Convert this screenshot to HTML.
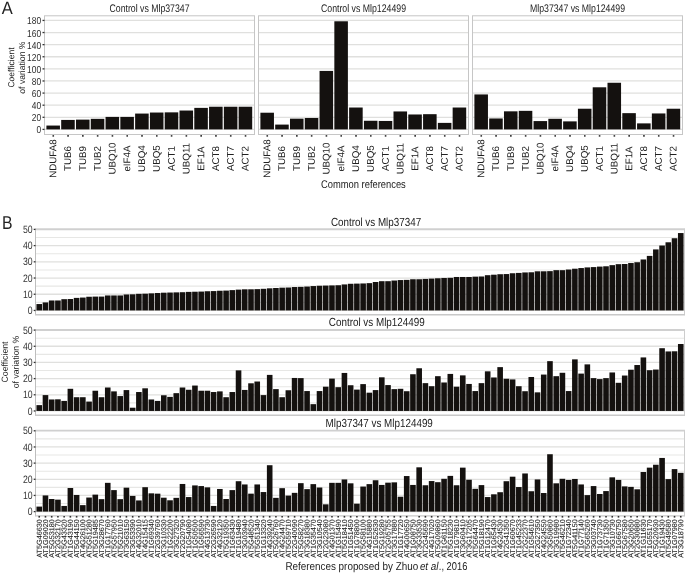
<!DOCTYPE html>
<html><head><meta charset="utf-8"><title>Figure</title>
<style>
html,body{margin:0;padding:0;background:#fff;}
svg{display:block;font-family:"Liberation Sans",sans-serif;will-change:transform;transform:translateZ(0);}
</style></head><body>
<svg width="685" height="573" viewBox="0 0 685 573">
<rect width="685" height="573" fill="#fff"/>
<line x1="44.5" x2="254.5" y1="129.4" y2="129.4" stroke="#e0e0de" stroke-width="1.3"/>
<line x1="44.5" x2="254.5" y1="117.29" y2="117.29" stroke="#e0e0de" stroke-width="1.3"/>
<line x1="44.5" x2="254.5" y1="105.19" y2="105.19" stroke="#e0e0de" stroke-width="1.3"/>
<line x1="44.5" x2="254.5" y1="93.08" y2="93.08" stroke="#e0e0de" stroke-width="1.3"/>
<line x1="44.5" x2="254.5" y1="80.97" y2="80.97" stroke="#e0e0de" stroke-width="1.3"/>
<line x1="44.5" x2="254.5" y1="68.87" y2="68.87" stroke="#e0e0de" stroke-width="1.3"/>
<line x1="44.5" x2="254.5" y1="56.76" y2="56.76" stroke="#e0e0de" stroke-width="1.3"/>
<line x1="44.5" x2="254.5" y1="44.65" y2="44.65" stroke="#e0e0de" stroke-width="1.3"/>
<line x1="44.5" x2="254.5" y1="32.54" y2="32.54" stroke="#e0e0de" stroke-width="1.3"/>
<line x1="44.5" x2="254.5" y1="20.44" y2="20.44" stroke="#e0e0de" stroke-width="1.3"/>
<rect x="46.4" y="125.56" width="13.55" height="3.84" fill="#14110f"/>
<line x1="53.27" x2="53.27" y1="135.1" y2="136.7" stroke="#333" stroke-width="1.6"/>
<text transform="translate(56.33,158.6) rotate(-89.96)" font-size="9.75" text-anchor="middle" fill="#202020">NDUFA8</text>
<rect x="61.19" y="119.93" width="13.55" height="9.47" fill="#14110f"/>
<line x1="68.06" x2="68.06" y1="135.1" y2="136.7" stroke="#333" stroke-width="1.6"/>
<text transform="translate(71.12,158.6) rotate(-89.96)" font-size="9.75" text-anchor="middle" fill="#202020">TUB6</text>
<rect x="75.98" y="119.62" width="13.55" height="9.78" fill="#14110f"/>
<line x1="82.85" x2="82.85" y1="135.1" y2="136.7" stroke="#333" stroke-width="1.6"/>
<text transform="translate(85.9,158.6) rotate(-89.96)" font-size="9.75" text-anchor="middle" fill="#202020">TUB9</text>
<rect x="90.76" y="118.84" width="13.55" height="10.56" fill="#14110f"/>
<line x1="97.64" x2="97.64" y1="135.1" y2="136.7" stroke="#333" stroke-width="1.6"/>
<text transform="translate(100.69,158.6) rotate(-89.96)" font-size="9.75" text-anchor="middle" fill="#202020">TUB2</text>
<rect x="105.55" y="116.9" width="13.55" height="12.5" fill="#14110f"/>
<line x1="112.43" x2="112.43" y1="135.1" y2="136.7" stroke="#333" stroke-width="1.6"/>
<text transform="translate(115.48,158.6) rotate(-89.96)" font-size="9.75" text-anchor="middle" fill="#202020">UBQ10</text>
<rect x="120.34" y="116.9" width="13.55" height="12.5" fill="#14110f"/>
<line x1="127.22" x2="127.22" y1="135.1" y2="136.7" stroke="#333" stroke-width="1.6"/>
<text transform="translate(130.27,158.6) rotate(-89.96)" font-size="9.75" text-anchor="middle" fill="#202020">eIF4A</text>
<rect x="135.13" y="113.57" width="13.55" height="15.83" fill="#14110f"/>
<line x1="142.01" x2="142.01" y1="135.1" y2="136.7" stroke="#333" stroke-width="1.6"/>
<text transform="translate(145.06,158.6) rotate(-89.96)" font-size="9.75" text-anchor="middle" fill="#202020">UBQ4</text>
<rect x="149.92" y="112.54" width="13.55" height="16.86" fill="#14110f"/>
<line x1="156.79" x2="156.79" y1="135.1" y2="136.7" stroke="#333" stroke-width="1.6"/>
<text transform="translate(159.85,158.6) rotate(-89.96)" font-size="9.75" text-anchor="middle" fill="#202020">UBQ5</text>
<rect x="164.71" y="112.36" width="13.55" height="17.04" fill="#14110f"/>
<line x1="171.58" x2="171.58" y1="135.1" y2="136.7" stroke="#333" stroke-width="1.6"/>
<text transform="translate(174.64,158.6) rotate(-89.96)" font-size="9.75" text-anchor="middle" fill="#202020">ACT1</text>
<rect x="179.5" y="110.54" width="13.55" height="18.86" fill="#14110f"/>
<line x1="186.37" x2="186.37" y1="135.1" y2="136.7" stroke="#333" stroke-width="1.6"/>
<text transform="translate(189.43,158.6) rotate(-89.96)" font-size="9.75" text-anchor="middle" fill="#202020">UBQ11</text>
<rect x="194.29" y="107.88" width="13.55" height="21.52" fill="#14110f"/>
<line x1="201.16" x2="201.16" y1="135.1" y2="136.7" stroke="#333" stroke-width="1.6"/>
<text transform="translate(204.21,158.6) rotate(-89.96)" font-size="9.75" text-anchor="middle" fill="#202020">EF1A</text>
<rect x="209.07" y="106.73" width="13.55" height="22.67" fill="#14110f"/>
<line x1="215.95" x2="215.95" y1="135.1" y2="136.7" stroke="#333" stroke-width="1.6"/>
<text transform="translate(219,158.6) rotate(-89.96)" font-size="9.75" text-anchor="middle" fill="#202020">ACT8</text>
<rect x="223.86" y="106.73" width="13.55" height="22.67" fill="#14110f"/>
<line x1="230.74" x2="230.74" y1="135.1" y2="136.7" stroke="#333" stroke-width="1.6"/>
<text transform="translate(233.79,158.6) rotate(-89.96)" font-size="9.75" text-anchor="middle" fill="#202020">ACT7</text>
<rect x="238.65" y="106.73" width="13.55" height="22.67" fill="#14110f"/>
<line x1="245.53" x2="245.53" y1="135.1" y2="136.7" stroke="#333" stroke-width="1.6"/>
<text transform="translate(248.58,158.6) rotate(-89.96)" font-size="9.75" text-anchor="middle" fill="#202020">ACT2</text>
<rect x="44.5" y="15.8" width="210" height="118.7" fill="none" stroke="#c6c6c6" stroke-width="1"/>
<text transform="translate(149.5,12.3) rotate(0.03)" font-size="11.0" text-anchor="middle" textLength="80" lengthAdjust="spacingAndGlyphs" fill="#222">Control vs Mlp37347</text>
<line x1="258.5" x2="468.5" y1="129.4" y2="129.4" stroke="#e0e0de" stroke-width="1.3"/>
<line x1="258.5" x2="468.5" y1="117.29" y2="117.29" stroke="#e0e0de" stroke-width="1.3"/>
<line x1="258.5" x2="468.5" y1="105.19" y2="105.19" stroke="#e0e0de" stroke-width="1.3"/>
<line x1="258.5" x2="468.5" y1="93.08" y2="93.08" stroke="#e0e0de" stroke-width="1.3"/>
<line x1="258.5" x2="468.5" y1="80.97" y2="80.97" stroke="#e0e0de" stroke-width="1.3"/>
<line x1="258.5" x2="468.5" y1="68.87" y2="68.87" stroke="#e0e0de" stroke-width="1.3"/>
<line x1="258.5" x2="468.5" y1="56.76" y2="56.76" stroke="#e0e0de" stroke-width="1.3"/>
<line x1="258.5" x2="468.5" y1="44.65" y2="44.65" stroke="#e0e0de" stroke-width="1.3"/>
<line x1="258.5" x2="468.5" y1="32.54" y2="32.54" stroke="#e0e0de" stroke-width="1.3"/>
<line x1="258.5" x2="468.5" y1="20.44" y2="20.44" stroke="#e0e0de" stroke-width="1.3"/>
<rect x="260.4" y="112.72" width="13.55" height="16.68" fill="#14110f"/>
<line x1="267.27" x2="267.27" y1="135.1" y2="136.7" stroke="#333" stroke-width="1.6"/>
<text transform="translate(270.33,158.6) rotate(-89.96)" font-size="9.75" text-anchor="middle" fill="#202020">NDUFA8</text>
<rect x="275.19" y="124.59" width="13.55" height="4.81" fill="#14110f"/>
<line x1="282.06" x2="282.06" y1="135.1" y2="136.7" stroke="#333" stroke-width="1.6"/>
<text transform="translate(285.12,158.6) rotate(-89.96)" font-size="9.75" text-anchor="middle" fill="#202020">TUB6</text>
<rect x="289.98" y="118.66" width="13.55" height="10.74" fill="#14110f"/>
<line x1="296.85" x2="296.85" y1="135.1" y2="136.7" stroke="#333" stroke-width="1.6"/>
<text transform="translate(299.9,158.6) rotate(-89.96)" font-size="9.75" text-anchor="middle" fill="#202020">TUB9</text>
<rect x="304.76" y="117.99" width="13.55" height="11.41" fill="#14110f"/>
<line x1="311.64" x2="311.64" y1="135.1" y2="136.7" stroke="#333" stroke-width="1.6"/>
<text transform="translate(314.69,158.6) rotate(-89.96)" font-size="9.75" text-anchor="middle" fill="#202020">TUB2</text>
<rect x="319.55" y="70.92" width="13.55" height="58.48" fill="#14110f"/>
<line x1="326.43" x2="326.43" y1="135.1" y2="136.7" stroke="#333" stroke-width="1.6"/>
<text transform="translate(329.48,158.6) rotate(-89.96)" font-size="9.75" text-anchor="middle" fill="#202020">UBQ10</text>
<rect x="334.34" y="21.28" width="13.55" height="108.12" fill="#14110f"/>
<line x1="341.22" x2="341.22" y1="135.1" y2="136.7" stroke="#333" stroke-width="1.6"/>
<text transform="translate(344.27,158.6) rotate(-89.96)" font-size="9.75" text-anchor="middle" fill="#202020">eIF4A</text>
<rect x="349.13" y="107.52" width="13.55" height="21.88" fill="#14110f"/>
<line x1="356.01" x2="356.01" y1="135.1" y2="136.7" stroke="#333" stroke-width="1.6"/>
<text transform="translate(359.06,158.6) rotate(-89.96)" font-size="9.75" text-anchor="middle" fill="#202020">UBQ4</text>
<rect x="363.92" y="120.77" width="13.55" height="8.63" fill="#14110f"/>
<line x1="370.79" x2="370.79" y1="135.1" y2="136.7" stroke="#333" stroke-width="1.6"/>
<text transform="translate(373.85,158.6) rotate(-89.96)" font-size="9.75" text-anchor="middle" fill="#202020">UBQ5</text>
<rect x="378.71" y="120.96" width="13.55" height="8.44" fill="#14110f"/>
<line x1="385.58" x2="385.58" y1="135.1" y2="136.7" stroke="#333" stroke-width="1.6"/>
<text transform="translate(388.64,158.6) rotate(-89.96)" font-size="9.75" text-anchor="middle" fill="#202020">ACT1</text>
<rect x="393.5" y="111.45" width="13.55" height="17.95" fill="#14110f"/>
<line x1="400.37" x2="400.37" y1="135.1" y2="136.7" stroke="#333" stroke-width="1.6"/>
<text transform="translate(403.43,158.6) rotate(-89.96)" font-size="9.75" text-anchor="middle" fill="#202020">UBQ11</text>
<rect x="408.29" y="114.48" width="13.55" height="14.92" fill="#14110f"/>
<line x1="415.16" x2="415.16" y1="135.1" y2="136.7" stroke="#333" stroke-width="1.6"/>
<text transform="translate(418.21,158.6) rotate(-89.96)" font-size="9.75" text-anchor="middle" fill="#202020">EF1A</text>
<rect x="423.07" y="114.18" width="13.55" height="15.22" fill="#14110f"/>
<line x1="429.95" x2="429.95" y1="135.1" y2="136.7" stroke="#333" stroke-width="1.6"/>
<text transform="translate(433,158.6) rotate(-89.96)" font-size="9.75" text-anchor="middle" fill="#202020">ACT8</text>
<rect x="437.86" y="122.89" width="13.55" height="6.51" fill="#14110f"/>
<line x1="444.74" x2="444.74" y1="135.1" y2="136.7" stroke="#333" stroke-width="1.6"/>
<text transform="translate(447.79,158.6) rotate(-89.96)" font-size="9.75" text-anchor="middle" fill="#202020">ACT7</text>
<rect x="452.65" y="107.52" width="13.55" height="21.88" fill="#14110f"/>
<line x1="459.53" x2="459.53" y1="135.1" y2="136.7" stroke="#333" stroke-width="1.6"/>
<text transform="translate(462.58,158.6) rotate(-89.96)" font-size="9.75" text-anchor="middle" fill="#202020">ACT2</text>
<rect x="258.5" y="15.8" width="210" height="118.7" fill="none" stroke="#c6c6c6" stroke-width="1"/>
<text transform="translate(363.5,12.3) rotate(0.03)" font-size="11.0" text-anchor="middle" textLength="85" lengthAdjust="spacingAndGlyphs" fill="#222">Control vs Mlp124499</text>
<line x1="472.5" x2="682.5" y1="129.4" y2="129.4" stroke="#e0e0de" stroke-width="1.3"/>
<line x1="472.5" x2="682.5" y1="117.29" y2="117.29" stroke="#e0e0de" stroke-width="1.3"/>
<line x1="472.5" x2="682.5" y1="105.19" y2="105.19" stroke="#e0e0de" stroke-width="1.3"/>
<line x1="472.5" x2="682.5" y1="93.08" y2="93.08" stroke="#e0e0de" stroke-width="1.3"/>
<line x1="472.5" x2="682.5" y1="80.97" y2="80.97" stroke="#e0e0de" stroke-width="1.3"/>
<line x1="472.5" x2="682.5" y1="68.87" y2="68.87" stroke="#e0e0de" stroke-width="1.3"/>
<line x1="472.5" x2="682.5" y1="56.76" y2="56.76" stroke="#e0e0de" stroke-width="1.3"/>
<line x1="472.5" x2="682.5" y1="44.65" y2="44.65" stroke="#e0e0de" stroke-width="1.3"/>
<line x1="472.5" x2="682.5" y1="32.54" y2="32.54" stroke="#e0e0de" stroke-width="1.3"/>
<line x1="472.5" x2="682.5" y1="20.44" y2="20.44" stroke="#e0e0de" stroke-width="1.3"/>
<rect x="474.4" y="94.44" width="13.55" height="34.96" fill="#14110f"/>
<line x1="481.27" x2="481.27" y1="135.1" y2="136.7" stroke="#333" stroke-width="1.6"/>
<text transform="translate(484.33,158.6) rotate(-89.96)" font-size="9.75" text-anchor="middle" fill="#202020">NDUFA8</text>
<rect x="489.19" y="118.47" width="13.55" height="10.93" fill="#14110f"/>
<line x1="496.06" x2="496.06" y1="135.1" y2="136.7" stroke="#333" stroke-width="1.6"/>
<text transform="translate(499.12,158.6) rotate(-89.96)" font-size="9.75" text-anchor="middle" fill="#202020">TUB6</text>
<rect x="503.98" y="111.33" width="13.55" height="18.07" fill="#14110f"/>
<line x1="510.85" x2="510.85" y1="135.1" y2="136.7" stroke="#333" stroke-width="1.6"/>
<text transform="translate(513.9,158.6) rotate(-89.96)" font-size="9.75" text-anchor="middle" fill="#202020">TUB9</text>
<rect x="518.76" y="110.85" width="13.55" height="18.55" fill="#14110f"/>
<line x1="525.64" x2="525.64" y1="135.1" y2="136.7" stroke="#333" stroke-width="1.6"/>
<text transform="translate(528.69,158.6) rotate(-89.96)" font-size="9.75" text-anchor="middle" fill="#202020">TUB2</text>
<rect x="533.55" y="121.08" width="13.55" height="8.32" fill="#14110f"/>
<line x1="540.43" x2="540.43" y1="135.1" y2="136.7" stroke="#333" stroke-width="1.6"/>
<text transform="translate(543.48,158.6) rotate(-89.96)" font-size="9.75" text-anchor="middle" fill="#202020">UBQ10</text>
<rect x="548.34" y="118.78" width="13.55" height="10.62" fill="#14110f"/>
<line x1="555.22" x2="555.22" y1="135.1" y2="136.7" stroke="#333" stroke-width="1.6"/>
<text transform="translate(558.27,158.6) rotate(-89.96)" font-size="9.75" text-anchor="middle" fill="#202020">eIF4A</text>
<rect x="563.13" y="121.38" width="13.55" height="8.02" fill="#14110f"/>
<line x1="570.01" x2="570.01" y1="135.1" y2="136.7" stroke="#333" stroke-width="1.6"/>
<text transform="translate(573.06,158.6) rotate(-89.96)" font-size="9.75" text-anchor="middle" fill="#202020">UBQ4</text>
<rect x="577.92" y="108.73" width="13.55" height="20.67" fill="#14110f"/>
<line x1="584.79" x2="584.79" y1="135.1" y2="136.7" stroke="#333" stroke-width="1.6"/>
<text transform="translate(587.85,158.6) rotate(-89.96)" font-size="9.75" text-anchor="middle" fill="#202020">UBQ5</text>
<rect x="592.71" y="87.3" width="13.55" height="42.1" fill="#14110f"/>
<line x1="599.58" x2="599.58" y1="135.1" y2="136.7" stroke="#333" stroke-width="1.6"/>
<text transform="translate(602.64,158.6) rotate(-89.96)" font-size="9.75" text-anchor="middle" fill="#202020">ACT1</text>
<rect x="607.5" y="82.76" width="13.55" height="46.64" fill="#14110f"/>
<line x1="614.37" x2="614.37" y1="135.1" y2="136.7" stroke="#333" stroke-width="1.6"/>
<text transform="translate(617.43,158.6) rotate(-89.96)" font-size="9.75" text-anchor="middle" fill="#202020">UBQ11</text>
<rect x="622.29" y="113.15" width="13.55" height="16.25" fill="#14110f"/>
<line x1="629.16" x2="629.16" y1="135.1" y2="136.7" stroke="#333" stroke-width="1.6"/>
<text transform="translate(632.21,158.6) rotate(-89.96)" font-size="9.75" text-anchor="middle" fill="#202020">EF1A</text>
<rect x="637.07" y="123.38" width="13.55" height="6.02" fill="#14110f"/>
<line x1="643.95" x2="643.95" y1="135.1" y2="136.7" stroke="#333" stroke-width="1.6"/>
<text transform="translate(647,158.6) rotate(-89.96)" font-size="9.75" text-anchor="middle" fill="#202020">ACT8</text>
<rect x="651.86" y="113.45" width="13.55" height="15.95" fill="#14110f"/>
<line x1="658.74" x2="658.74" y1="135.1" y2="136.7" stroke="#333" stroke-width="1.6"/>
<text transform="translate(661.79,158.6) rotate(-89.96)" font-size="9.75" text-anchor="middle" fill="#202020">ACT7</text>
<rect x="666.65" y="108.73" width="13.55" height="20.67" fill="#14110f"/>
<line x1="673.53" x2="673.53" y1="135.1" y2="136.7" stroke="#333" stroke-width="1.6"/>
<text transform="translate(676.58,158.6) rotate(-89.96)" font-size="9.75" text-anchor="middle" fill="#202020">ACT2</text>
<rect x="472.5" y="15.8" width="210" height="118.7" fill="none" stroke="#c6c6c6" stroke-width="1"/>
<text transform="translate(577.5,12.3) rotate(0.03)" font-size="11.0" text-anchor="middle" textLength="95" lengthAdjust="spacingAndGlyphs" fill="#222">Mlp37347 vs Mlp124499</text>
<line x1="42.5" x2="44.5" y1="129.4" y2="129.4" stroke="#333" stroke-width="1.3"/>
<text transform="translate(41.1,133.45) rotate(0.03)" font-size="10.1" text-anchor="end" textLength="4.67" lengthAdjust="spacingAndGlyphs" fill="#2e2e2e">0</text>
<line x1="42.5" x2="44.5" y1="117.29" y2="117.29" stroke="#333" stroke-width="1.3"/>
<text transform="translate(41.1,121.34) rotate(0.03)" font-size="10.1" text-anchor="end" textLength="9.34" lengthAdjust="spacingAndGlyphs" fill="#2e2e2e">20</text>
<line x1="42.5" x2="44.5" y1="105.19" y2="105.19" stroke="#333" stroke-width="1.3"/>
<text transform="translate(41.1,109.24) rotate(0.03)" font-size="10.1" text-anchor="end" textLength="9.34" lengthAdjust="spacingAndGlyphs" fill="#2e2e2e">40</text>
<line x1="42.5" x2="44.5" y1="93.08" y2="93.08" stroke="#333" stroke-width="1.3"/>
<text transform="translate(41.1,97.13) rotate(0.03)" font-size="10.1" text-anchor="end" textLength="9.34" lengthAdjust="spacingAndGlyphs" fill="#2e2e2e">60</text>
<line x1="42.5" x2="44.5" y1="80.97" y2="80.97" stroke="#333" stroke-width="1.3"/>
<text transform="translate(41.1,85.02) rotate(0.03)" font-size="10.1" text-anchor="end" textLength="9.34" lengthAdjust="spacingAndGlyphs" fill="#2e2e2e">80</text>
<line x1="42.5" x2="44.5" y1="68.87" y2="68.87" stroke="#333" stroke-width="1.3"/>
<text transform="translate(41.1,72.92) rotate(0.03)" font-size="10.1" text-anchor="end" textLength="14.01" lengthAdjust="spacingAndGlyphs" fill="#2e2e2e">100</text>
<line x1="42.5" x2="44.5" y1="56.76" y2="56.76" stroke="#333" stroke-width="1.3"/>
<text transform="translate(41.1,60.81) rotate(0.03)" font-size="10.1" text-anchor="end" textLength="14.01" lengthAdjust="spacingAndGlyphs" fill="#2e2e2e">120</text>
<line x1="42.5" x2="44.5" y1="44.65" y2="44.65" stroke="#333" stroke-width="1.3"/>
<text transform="translate(41.1,48.7) rotate(0.03)" font-size="10.1" text-anchor="end" textLength="14.01" lengthAdjust="spacingAndGlyphs" fill="#2e2e2e">140</text>
<line x1="42.5" x2="44.5" y1="32.54" y2="32.54" stroke="#333" stroke-width="1.3"/>
<text transform="translate(41.1,36.59) rotate(0.03)" font-size="10.1" text-anchor="end" textLength="14.01" lengthAdjust="spacingAndGlyphs" fill="#2e2e2e">160</text>
<line x1="42.5" x2="44.5" y1="20.44" y2="20.44" stroke="#333" stroke-width="1.3"/>
<text transform="translate(41.1,24.49) rotate(0.03)" font-size="10.1" text-anchor="end" textLength="14.01" lengthAdjust="spacingAndGlyphs" fill="#2e2e2e">180</text>
<text transform="translate(363.4,188.2) rotate(0.03)" font-size="11.2" text-anchor="middle" textLength="84.8" lengthAdjust="spacingAndGlyphs" fill="#222">Common references</text>
<text transform="translate(1.7,13.6) rotate(0.03)" font-size="17.8" textLength="11" lengthAdjust="spacingAndGlyphs" fill="#222">A</text>
<text transform="translate(14.2,67.5) rotate(-89.96)" font-size="8.8" text-anchor="middle" textLength="40.1" lengthAdjust="spacingAndGlyphs" fill="#222">Coefficient</text>
<text transform="translate(25,67.6) rotate(-89.96)" font-size="8.8" text-anchor="middle" textLength="52.2" lengthAdjust="spacingAndGlyphs" fill="#222">of variation %</text>
<line x1="35.5" x2="684.5" y1="302.34" y2="302.34" stroke="#e7e7e5" stroke-width="1.1"/>
<line x1="35.5" x2="684.5" y1="286.13" y2="286.13" stroke="#e7e7e5" stroke-width="1.1"/>
<line x1="35.5" x2="684.5" y1="269.93" y2="269.93" stroke="#e7e7e5" stroke-width="1.1"/>
<line x1="35.5" x2="684.5" y1="253.72" y2="253.72" stroke="#e7e7e5" stroke-width="1.1"/>
<line x1="35.5" x2="684.5" y1="237.5" y2="237.5" stroke="#e7e7e5" stroke-width="1.1"/>
<line x1="35.5" x2="684.5" y1="310.45" y2="310.45" stroke="#e0e0de" stroke-width="1.3"/>
<line x1="35.5" x2="684.5" y1="294.24" y2="294.24" stroke="#e0e0de" stroke-width="1.3"/>
<line x1="35.5" x2="684.5" y1="278.03" y2="278.03" stroke="#e0e0de" stroke-width="1.3"/>
<line x1="35.5" x2="684.5" y1="261.82" y2="261.82" stroke="#e0e0de" stroke-width="1.3"/>
<line x1="35.5" x2="684.5" y1="245.61" y2="245.61" stroke="#e0e0de" stroke-width="1.3"/>
<rect x="36.44" y="304.05" width="5.6" height="6.4" fill="#14110f"/>
<rect x="42.67" y="302.43" width="5.6" height="8.02" fill="#14110f"/>
<rect x="48.89" y="300.48" width="5.6" height="9.97" fill="#14110f"/>
<rect x="55.12" y="300.48" width="5.6" height="9.97" fill="#14110f"/>
<rect x="61.35" y="299.18" width="5.6" height="11.27" fill="#14110f"/>
<rect x="67.58" y="299.02" width="5.6" height="11.43" fill="#14110f"/>
<rect x="73.81" y="297.89" width="5.6" height="12.56" fill="#14110f"/>
<rect x="80.04" y="297.56" width="5.6" height="12.89" fill="#14110f"/>
<rect x="86.26" y="296.75" width="5.6" height="13.7" fill="#14110f"/>
<rect x="92.49" y="296.59" width="5.6" height="13.86" fill="#14110f"/>
<rect x="98.72" y="296.59" width="5.6" height="13.86" fill="#14110f"/>
<rect x="104.95" y="295.46" width="5.6" height="14.99" fill="#14110f"/>
<rect x="111.18" y="295.46" width="5.6" height="14.99" fill="#14110f"/>
<rect x="117.41" y="295.46" width="5.6" height="14.99" fill="#14110f"/>
<rect x="123.63" y="294.48" width="5.6" height="15.97" fill="#14110f"/>
<rect x="129.86" y="294.32" width="5.6" height="16.13" fill="#14110f"/>
<rect x="136.09" y="293.83" width="5.6" height="16.62" fill="#14110f"/>
<rect x="142.32" y="293.67" width="5.6" height="16.78" fill="#14110f"/>
<rect x="148.55" y="293.35" width="5.6" height="17.1" fill="#14110f"/>
<rect x="154.78" y="293.02" width="5.6" height="17.43" fill="#14110f"/>
<rect x="161.01" y="292.7" width="5.6" height="17.75" fill="#14110f"/>
<rect x="167.23" y="292.54" width="5.6" height="17.91" fill="#14110f"/>
<rect x="173.46" y="292.38" width="5.6" height="18.07" fill="#14110f"/>
<rect x="179.69" y="292.21" width="5.6" height="18.24" fill="#14110f"/>
<rect x="185.92" y="291.89" width="5.6" height="18.56" fill="#14110f"/>
<rect x="192.15" y="291.73" width="5.6" height="18.72" fill="#14110f"/>
<rect x="198.38" y="291.57" width="5.6" height="18.88" fill="#14110f"/>
<rect x="204.6" y="291.24" width="5.6" height="19.21" fill="#14110f"/>
<rect x="210.83" y="291.08" width="5.6" height="19.37" fill="#14110f"/>
<rect x="217.06" y="290.75" width="5.6" height="19.7" fill="#14110f"/>
<rect x="223.29" y="290.59" width="5.6" height="19.86" fill="#14110f"/>
<rect x="229.52" y="290.11" width="5.6" height="20.34" fill="#14110f"/>
<rect x="235.75" y="289.62" width="5.6" height="20.83" fill="#14110f"/>
<rect x="241.97" y="289.3" width="5.6" height="21.15" fill="#14110f"/>
<rect x="248.2" y="289.3" width="5.6" height="21.15" fill="#14110f"/>
<rect x="254.43" y="289.13" width="5.6" height="21.32" fill="#14110f"/>
<rect x="260.66" y="288.81" width="5.6" height="21.64" fill="#14110f"/>
<rect x="266.89" y="288.32" width="5.6" height="22.13" fill="#14110f"/>
<rect x="273.12" y="288" width="5.6" height="22.45" fill="#14110f"/>
<rect x="279.34" y="287.67" width="5.6" height="22.78" fill="#14110f"/>
<rect x="285.57" y="287.51" width="5.6" height="22.94" fill="#14110f"/>
<rect x="291.8" y="287.03" width="5.6" height="23.42" fill="#14110f"/>
<rect x="298.03" y="286.86" width="5.6" height="23.59" fill="#14110f"/>
<rect x="304.26" y="286.54" width="5.6" height="23.91" fill="#14110f"/>
<rect x="310.49" y="286.05" width="5.6" height="24.4" fill="#14110f"/>
<rect x="316.72" y="285.73" width="5.6" height="24.72" fill="#14110f"/>
<rect x="322.94" y="285.57" width="5.6" height="24.88" fill="#14110f"/>
<rect x="329.17" y="285.41" width="5.6" height="25.04" fill="#14110f"/>
<rect x="335.4" y="285.24" width="5.6" height="25.21" fill="#14110f"/>
<rect x="341.63" y="284.43" width="5.6" height="26.02" fill="#14110f"/>
<rect x="347.86" y="283.78" width="5.6" height="26.67" fill="#14110f"/>
<rect x="354.09" y="283.62" width="5.6" height="26.83" fill="#14110f"/>
<rect x="360.31" y="283.46" width="5.6" height="26.99" fill="#14110f"/>
<rect x="366.54" y="283.14" width="5.6" height="27.31" fill="#14110f"/>
<rect x="372.77" y="282" width="5.6" height="28.45" fill="#14110f"/>
<rect x="379" y="281.19" width="5.6" height="29.26" fill="#14110f"/>
<rect x="385.23" y="281.19" width="5.6" height="29.26" fill="#14110f"/>
<rect x="391.46" y="280.54" width="5.6" height="29.91" fill="#14110f"/>
<rect x="397.68" y="280.06" width="5.6" height="30.39" fill="#14110f"/>
<rect x="403.91" y="279.89" width="5.6" height="30.56" fill="#14110f"/>
<rect x="410.14" y="279.25" width="5.6" height="31.2" fill="#14110f"/>
<rect x="416.37" y="279.25" width="5.6" height="31.2" fill="#14110f"/>
<rect x="422.6" y="278.92" width="5.6" height="31.53" fill="#14110f"/>
<rect x="428.83" y="278.6" width="5.6" height="31.85" fill="#14110f"/>
<rect x="435.06" y="278.27" width="5.6" height="32.18" fill="#14110f"/>
<rect x="441.28" y="277.95" width="5.6" height="32.5" fill="#14110f"/>
<rect x="447.51" y="277.79" width="5.6" height="32.66" fill="#14110f"/>
<rect x="453.74" y="276.98" width="5.6" height="33.47" fill="#14110f"/>
<rect x="459.97" y="276.98" width="5.6" height="33.47" fill="#14110f"/>
<rect x="466.2" y="276.98" width="5.6" height="33.47" fill="#14110f"/>
<rect x="472.43" y="276.65" width="5.6" height="33.8" fill="#14110f"/>
<rect x="478.65" y="276.49" width="5.6" height="33.96" fill="#14110f"/>
<rect x="484.88" y="275.19" width="5.6" height="35.26" fill="#14110f"/>
<rect x="491.11" y="274.71" width="5.6" height="35.74" fill="#14110f"/>
<rect x="497.34" y="274.22" width="5.6" height="36.23" fill="#14110f"/>
<rect x="503.57" y="274.06" width="5.6" height="36.39" fill="#14110f"/>
<rect x="509.8" y="273.25" width="5.6" height="37.2" fill="#14110f"/>
<rect x="516.02" y="272.92" width="5.6" height="37.53" fill="#14110f"/>
<rect x="522.25" y="272.44" width="5.6" height="38.01" fill="#14110f"/>
<rect x="528.48" y="272.28" width="5.6" height="38.17" fill="#14110f"/>
<rect x="534.71" y="271.3" width="5.6" height="39.15" fill="#14110f"/>
<rect x="540.94" y="271.3" width="5.6" height="39.15" fill="#14110f"/>
<rect x="547.17" y="271.14" width="5.6" height="39.31" fill="#14110f"/>
<rect x="553.39" y="270.17" width="5.6" height="40.28" fill="#14110f"/>
<rect x="559.62" y="270.17" width="5.6" height="40.28" fill="#14110f"/>
<rect x="565.85" y="269.52" width="5.6" height="40.93" fill="#14110f"/>
<rect x="572.08" y="268.71" width="5.6" height="41.74" fill="#14110f"/>
<rect x="578.31" y="268.06" width="5.6" height="42.39" fill="#14110f"/>
<rect x="584.54" y="267.41" width="5.6" height="43.04" fill="#14110f"/>
<rect x="590.77" y="267.09" width="5.6" height="43.36" fill="#14110f"/>
<rect x="596.99" y="266.6" width="5.6" height="43.85" fill="#14110f"/>
<rect x="603.22" y="266.28" width="5.6" height="44.17" fill="#14110f"/>
<rect x="609.45" y="265.14" width="5.6" height="45.31" fill="#14110f"/>
<rect x="615.68" y="264.17" width="5.6" height="46.28" fill="#14110f"/>
<rect x="621.91" y="264.01" width="5.6" height="46.44" fill="#14110f"/>
<rect x="628.14" y="263.04" width="5.6" height="47.41" fill="#14110f"/>
<rect x="634.36" y="262.23" width="5.6" height="48.22" fill="#14110f"/>
<rect x="640.59" y="259.47" width="5.6" height="50.98" fill="#14110f"/>
<rect x="646.82" y="255.9" width="5.6" height="54.55" fill="#14110f"/>
<rect x="653.05" y="249.42" width="5.6" height="61.03" fill="#14110f"/>
<rect x="659.28" y="245.53" width="5.6" height="64.92" fill="#14110f"/>
<rect x="665.51" y="242.29" width="5.6" height="68.16" fill="#14110f"/>
<rect x="671.73" y="238.23" width="5.6" height="72.22" fill="#14110f"/>
<rect x="677.96" y="233.05" width="5.6" height="77.4" fill="#14110f"/>
<line x1="35.5" x2="35.5" y1="228.8" y2="315.05" stroke="#bebebe" stroke-width="1"/>
<line x1="684.5" x2="684.5" y1="228.8" y2="315.05" stroke="#cdcdcd" stroke-width="1"/>
<line x1="35" x2="685" y1="229.25" y2="229.25" stroke="#d0d0d0" stroke-width="1.9"/>
<line x1="35" x2="685" y1="314.7" y2="314.7" stroke="#c8c8c8" stroke-width="1.4"/>
<line x1="33.7" x2="35.5" y1="310.45" y2="310.45" stroke="#333" stroke-width="1.3"/>
<text transform="translate(32.6,314.1) rotate(0.03)" font-size="10.7" text-anchor="end" textLength="4.85" lengthAdjust="spacingAndGlyphs" fill="#363636">0</text>
<line x1="33.7" x2="35.5" y1="294.24" y2="294.24" stroke="#333" stroke-width="1.3"/>
<text transform="translate(32.6,297.89) rotate(0.03)" font-size="10.7" text-anchor="end" textLength="9.7" lengthAdjust="spacingAndGlyphs" fill="#363636">10</text>
<line x1="33.7" x2="35.5" y1="278.03" y2="278.03" stroke="#333" stroke-width="1.3"/>
<text transform="translate(32.6,281.68) rotate(0.03)" font-size="10.7" text-anchor="end" textLength="9.7" lengthAdjust="spacingAndGlyphs" fill="#363636">20</text>
<line x1="33.7" x2="35.5" y1="261.82" y2="261.82" stroke="#333" stroke-width="1.3"/>
<text transform="translate(32.6,265.47) rotate(0.03)" font-size="10.7" text-anchor="end" textLength="9.7" lengthAdjust="spacingAndGlyphs" fill="#363636">30</text>
<line x1="33.7" x2="35.5" y1="245.61" y2="245.61" stroke="#333" stroke-width="1.3"/>
<text transform="translate(32.6,249.26) rotate(0.03)" font-size="10.7" text-anchor="end" textLength="9.7" lengthAdjust="spacingAndGlyphs" fill="#363636">40</text>
<line x1="33.7" x2="35.5" y1="229.4" y2="229.4" stroke="#333" stroke-width="1.3"/>
<text transform="translate(32.6,233.05) rotate(0.03)" font-size="10.7" text-anchor="end" textLength="9.7" lengthAdjust="spacingAndGlyphs" fill="#363636">50</text>
<text transform="translate(376,225.85) rotate(0.03)" font-size="11.7" text-anchor="middle" textLength="90.2" lengthAdjust="spacingAndGlyphs" fill="#222">Control vs Mlp37347</text>
<line x1="35.5" x2="684.5" y1="402.87" y2="402.87" stroke="#e7e7e5" stroke-width="1.1"/>
<line x1="35.5" x2="684.5" y1="386.69" y2="386.69" stroke="#e7e7e5" stroke-width="1.1"/>
<line x1="35.5" x2="684.5" y1="370.52" y2="370.52" stroke="#e7e7e5" stroke-width="1.1"/>
<line x1="35.5" x2="684.5" y1="354.36" y2="354.36" stroke="#e7e7e5" stroke-width="1.1"/>
<line x1="35.5" x2="684.5" y1="338.19" y2="338.19" stroke="#e7e7e5" stroke-width="1.1"/>
<line x1="35.5" x2="684.5" y1="410.95" y2="410.95" stroke="#e0e0de" stroke-width="1.3"/>
<line x1="35.5" x2="684.5" y1="394.78" y2="394.78" stroke="#e0e0de" stroke-width="1.3"/>
<line x1="35.5" x2="684.5" y1="378.61" y2="378.61" stroke="#e0e0de" stroke-width="1.3"/>
<line x1="35.5" x2="684.5" y1="362.44" y2="362.44" stroke="#e0e0de" stroke-width="1.3"/>
<line x1="35.5" x2="684.5" y1="346.27" y2="346.27" stroke="#e0e0de" stroke-width="1.3"/>
<rect x="36.44" y="405.13" width="5.6" height="5.82" fill="#14110f"/>
<rect x="42.67" y="395.1" width="5.6" height="15.85" fill="#14110f"/>
<rect x="48.89" y="399.47" width="5.6" height="11.48" fill="#14110f"/>
<rect x="55.12" y="399.31" width="5.6" height="11.64" fill="#14110f"/>
<rect x="61.35" y="400.92" width="5.6" height="10.03" fill="#14110f"/>
<rect x="67.58" y="388.8" width="5.6" height="22.15" fill="#14110f"/>
<rect x="73.81" y="397.21" width="5.6" height="13.74" fill="#14110f"/>
<rect x="80.04" y="397.21" width="5.6" height="13.74" fill="#14110f"/>
<rect x="86.26" y="401.57" width="5.6" height="9.38" fill="#14110f"/>
<rect x="92.49" y="390.74" width="5.6" height="20.21" fill="#14110f"/>
<rect x="98.72" y="397.21" width="5.6" height="13.74" fill="#14110f"/>
<rect x="104.95" y="387.5" width="5.6" height="23.45" fill="#14110f"/>
<rect x="111.18" y="391.38" width="5.6" height="19.57" fill="#14110f"/>
<rect x="117.41" y="396.07" width="5.6" height="14.88" fill="#14110f"/>
<rect x="123.63" y="390.09" width="5.6" height="20.86" fill="#14110f"/>
<rect x="129.86" y="407.72" width="5.6" height="3.23" fill="#14110f"/>
<rect x="136.09" y="392.03" width="5.6" height="18.92" fill="#14110f"/>
<rect x="142.32" y="388.31" width="5.6" height="22.64" fill="#14110f"/>
<rect x="148.55" y="399.47" width="5.6" height="11.48" fill="#14110f"/>
<rect x="154.78" y="400.92" width="5.6" height="10.03" fill="#14110f"/>
<rect x="161.01" y="395.27" width="5.6" height="15.68" fill="#14110f"/>
<rect x="167.23" y="396.88" width="5.6" height="14.07" fill="#14110f"/>
<rect x="173.46" y="393.16" width="5.6" height="17.79" fill="#14110f"/>
<rect x="179.69" y="387.5" width="5.6" height="23.45" fill="#14110f"/>
<rect x="185.92" y="389.77" width="5.6" height="21.18" fill="#14110f"/>
<rect x="192.15" y="385.56" width="5.6" height="25.39" fill="#14110f"/>
<rect x="198.38" y="390.74" width="5.6" height="20.21" fill="#14110f"/>
<rect x="204.6" y="390.74" width="5.6" height="20.21" fill="#14110f"/>
<rect x="210.83" y="392.03" width="5.6" height="18.92" fill="#14110f"/>
<rect x="217.06" y="391.38" width="5.6" height="19.57" fill="#14110f"/>
<rect x="223.29" y="397.21" width="5.6" height="13.74" fill="#14110f"/>
<rect x="229.52" y="392.03" width="5.6" height="18.92" fill="#14110f"/>
<rect x="235.75" y="370.36" width="5.6" height="40.59" fill="#14110f"/>
<rect x="241.97" y="389.93" width="5.6" height="21.02" fill="#14110f"/>
<rect x="248.2" y="383.3" width="5.6" height="27.65" fill="#14110f"/>
<rect x="254.43" y="381.52" width="5.6" height="29.43" fill="#14110f"/>
<rect x="260.66" y="395.1" width="5.6" height="15.85" fill="#14110f"/>
<rect x="266.89" y="374.89" width="5.6" height="36.06" fill="#14110f"/>
<rect x="273.12" y="389.12" width="5.6" height="21.83" fill="#14110f"/>
<rect x="279.34" y="397.21" width="5.6" height="13.74" fill="#14110f"/>
<rect x="285.57" y="390.25" width="5.6" height="20.7" fill="#14110f"/>
<rect x="291.8" y="377.96" width="5.6" height="32.99" fill="#14110f"/>
<rect x="298.03" y="378.12" width="5.6" height="32.83" fill="#14110f"/>
<rect x="304.26" y="391.06" width="5.6" height="19.89" fill="#14110f"/>
<rect x="310.49" y="404.16" width="5.6" height="6.79" fill="#14110f"/>
<rect x="316.72" y="391.06" width="5.6" height="19.89" fill="#14110f"/>
<rect x="322.94" y="386.69" width="5.6" height="24.25" fill="#14110f"/>
<rect x="329.17" y="378.61" width="5.6" height="32.34" fill="#14110f"/>
<rect x="335.4" y="387.18" width="5.6" height="23.77" fill="#14110f"/>
<rect x="341.63" y="372.95" width="5.6" height="38" fill="#14110f"/>
<rect x="347.86" y="385.24" width="5.6" height="25.71" fill="#14110f"/>
<rect x="354.09" y="389.61" width="5.6" height="21.34" fill="#14110f"/>
<rect x="360.31" y="384.11" width="5.6" height="26.84" fill="#14110f"/>
<rect x="366.54" y="392.68" width="5.6" height="18.27" fill="#14110f"/>
<rect x="372.77" y="390.09" width="5.6" height="20.86" fill="#14110f"/>
<rect x="379" y="377.32" width="5.6" height="33.63" fill="#14110f"/>
<rect x="385.23" y="385.08" width="5.6" height="25.87" fill="#14110f"/>
<rect x="391.46" y="389.12" width="5.6" height="21.83" fill="#14110f"/>
<rect x="397.68" y="388.8" width="5.6" height="22.15" fill="#14110f"/>
<rect x="403.91" y="391.22" width="5.6" height="19.73" fill="#14110f"/>
<rect x="410.14" y="374.24" width="5.6" height="36.71" fill="#14110f"/>
<rect x="416.37" y="368.26" width="5.6" height="42.69" fill="#14110f"/>
<rect x="422.6" y="383.14" width="5.6" height="27.81" fill="#14110f"/>
<rect x="428.83" y="386.21" width="5.6" height="24.74" fill="#14110f"/>
<rect x="435.06" y="376.18" width="5.6" height="34.77" fill="#14110f"/>
<rect x="441.28" y="382.49" width="5.6" height="28.46" fill="#14110f"/>
<rect x="447.51" y="373.92" width="5.6" height="37.03" fill="#14110f"/>
<rect x="453.74" y="386.69" width="5.6" height="24.25" fill="#14110f"/>
<rect x="459.97" y="375.38" width="5.6" height="35.57" fill="#14110f"/>
<rect x="466.2" y="383.95" width="5.6" height="27" fill="#14110f"/>
<rect x="472.43" y="391.06" width="5.6" height="19.89" fill="#14110f"/>
<rect x="478.65" y="383.14" width="5.6" height="27.81" fill="#14110f"/>
<rect x="484.88" y="371.33" width="5.6" height="39.62" fill="#14110f"/>
<rect x="491.11" y="377.48" width="5.6" height="33.47" fill="#14110f"/>
<rect x="497.34" y="367.13" width="5.6" height="43.82" fill="#14110f"/>
<rect x="503.57" y="378.77" width="5.6" height="32.18" fill="#14110f"/>
<rect x="509.8" y="379.42" width="5.6" height="31.53" fill="#14110f"/>
<rect x="516.02" y="386.21" width="5.6" height="24.74" fill="#14110f"/>
<rect x="522.25" y="391.22" width="5.6" height="19.73" fill="#14110f"/>
<rect x="528.48" y="376.99" width="5.6" height="33.96" fill="#14110f"/>
<rect x="534.71" y="392.35" width="5.6" height="18.6" fill="#14110f"/>
<rect x="540.94" y="374.57" width="5.6" height="36.38" fill="#14110f"/>
<rect x="547.17" y="361.15" width="5.6" height="49.8" fill="#14110f"/>
<rect x="553.39" y="376.18" width="5.6" height="34.77" fill="#14110f"/>
<rect x="559.62" y="372.79" width="5.6" height="38.16" fill="#14110f"/>
<rect x="565.85" y="391.06" width="5.6" height="19.89" fill="#14110f"/>
<rect x="572.08" y="359.37" width="5.6" height="51.58" fill="#14110f"/>
<rect x="578.31" y="373.6" width="5.6" height="37.35" fill="#14110f"/>
<rect x="584.54" y="364.38" width="5.6" height="46.57" fill="#14110f"/>
<rect x="590.77" y="378.12" width="5.6" height="32.83" fill="#14110f"/>
<rect x="596.99" y="379.1" width="5.6" height="31.85" fill="#14110f"/>
<rect x="603.22" y="378.12" width="5.6" height="32.83" fill="#14110f"/>
<rect x="609.45" y="372.47" width="5.6" height="38.48" fill="#14110f"/>
<rect x="615.68" y="382.81" width="5.6" height="28.14" fill="#14110f"/>
<rect x="621.91" y="375.54" width="5.6" height="35.41" fill="#14110f"/>
<rect x="628.14" y="369.72" width="5.6" height="41.23" fill="#14110f"/>
<rect x="634.36" y="365.03" width="5.6" height="45.92" fill="#14110f"/>
<rect x="640.59" y="357.43" width="5.6" height="53.52" fill="#14110f"/>
<rect x="646.82" y="370.2" width="5.6" height="40.75" fill="#14110f"/>
<rect x="653.05" y="369.55" width="5.6" height="41.4" fill="#14110f"/>
<rect x="659.28" y="348.21" width="5.6" height="62.74" fill="#14110f"/>
<rect x="665.51" y="351.44" width="5.6" height="59.51" fill="#14110f"/>
<rect x="671.73" y="351.28" width="5.6" height="59.67" fill="#14110f"/>
<rect x="677.96" y="344.01" width="5.6" height="66.94" fill="#14110f"/>
<line x1="35.5" x2="35.5" y1="329.5" y2="415.55" stroke="#bebebe" stroke-width="1"/>
<line x1="684.5" x2="684.5" y1="329.5" y2="415.55" stroke="#cdcdcd" stroke-width="1"/>
<line x1="35" x2="685" y1="329.95" y2="329.95" stroke="#d0d0d0" stroke-width="1.9"/>
<line x1="35" x2="685" y1="415.2" y2="415.2" stroke="#c8c8c8" stroke-width="1.4"/>
<line x1="33.7" x2="35.5" y1="410.95" y2="410.95" stroke="#333" stroke-width="1.3"/>
<text transform="translate(32.6,414.6) rotate(0.03)" font-size="10.7" text-anchor="end" textLength="4.85" lengthAdjust="spacingAndGlyphs" fill="#363636">0</text>
<line x1="33.7" x2="35.5" y1="394.78" y2="394.78" stroke="#333" stroke-width="1.3"/>
<text transform="translate(32.6,398.43) rotate(0.03)" font-size="10.7" text-anchor="end" textLength="9.7" lengthAdjust="spacingAndGlyphs" fill="#363636">10</text>
<line x1="33.7" x2="35.5" y1="378.61" y2="378.61" stroke="#333" stroke-width="1.3"/>
<text transform="translate(32.6,382.26) rotate(0.03)" font-size="10.7" text-anchor="end" textLength="9.7" lengthAdjust="spacingAndGlyphs" fill="#363636">20</text>
<line x1="33.7" x2="35.5" y1="362.44" y2="362.44" stroke="#333" stroke-width="1.3"/>
<text transform="translate(32.6,366.09) rotate(0.03)" font-size="10.7" text-anchor="end" textLength="9.7" lengthAdjust="spacingAndGlyphs" fill="#363636">30</text>
<line x1="33.7" x2="35.5" y1="346.27" y2="346.27" stroke="#333" stroke-width="1.3"/>
<text transform="translate(32.6,349.92) rotate(0.03)" font-size="10.7" text-anchor="end" textLength="9.7" lengthAdjust="spacingAndGlyphs" fill="#363636">40</text>
<line x1="33.7" x2="35.5" y1="330.1" y2="330.1" stroke="#333" stroke-width="1.3"/>
<text transform="translate(32.6,333.75) rotate(0.03)" font-size="10.7" text-anchor="end" textLength="9.7" lengthAdjust="spacingAndGlyphs" fill="#363636">50</text>
<text transform="translate(376.8,326.4) rotate(0.03)" font-size="11.7" text-anchor="middle" textLength="96" lengthAdjust="spacingAndGlyphs" fill="#222">Control vs Mlp124499</text>
<line x1="35.5" x2="684.5" y1="503.52" y2="503.52" stroke="#e7e7e5" stroke-width="1.1"/>
<line x1="35.5" x2="684.5" y1="487.36" y2="487.36" stroke="#e7e7e5" stroke-width="1.1"/>
<line x1="35.5" x2="684.5" y1="471.2" y2="471.2" stroke="#e7e7e5" stroke-width="1.1"/>
<line x1="35.5" x2="684.5" y1="455.04" y2="455.04" stroke="#e7e7e5" stroke-width="1.1"/>
<line x1="35.5" x2="684.5" y1="438.88" y2="438.88" stroke="#e7e7e5" stroke-width="1.1"/>
<line x1="35.5" x2="684.5" y1="511.6" y2="511.6" stroke="#e0e0de" stroke-width="1.3"/>
<line x1="35.5" x2="684.5" y1="495.44" y2="495.44" stroke="#e0e0de" stroke-width="1.3"/>
<line x1="35.5" x2="684.5" y1="479.28" y2="479.28" stroke="#e0e0de" stroke-width="1.3"/>
<line x1="35.5" x2="684.5" y1="463.12" y2="463.12" stroke="#e0e0de" stroke-width="1.3"/>
<line x1="35.5" x2="684.5" y1="446.96" y2="446.96" stroke="#e0e0de" stroke-width="1.3"/>
<rect x="36.44" y="506.59" width="5.6" height="5.01" fill="#14110f"/>
<rect x="42.67" y="495.44" width="5.6" height="16.16" fill="#14110f"/>
<rect x="48.89" y="499" width="5.6" height="12.6" fill="#14110f"/>
<rect x="55.12" y="499.64" width="5.6" height="11.96" fill="#14110f"/>
<rect x="61.35" y="505.94" width="5.6" height="5.66" fill="#14110f"/>
<rect x="67.58" y="488.01" width="5.6" height="23.59" fill="#14110f"/>
<rect x="73.81" y="494.96" width="5.6" height="16.64" fill="#14110f"/>
<rect x="80.04" y="505.14" width="5.6" height="6.46" fill="#14110f"/>
<rect x="86.26" y="497.54" width="5.6" height="14.06" fill="#14110f"/>
<rect x="92.49" y="494.63" width="5.6" height="16.97" fill="#14110f"/>
<rect x="98.72" y="499.16" width="5.6" height="12.44" fill="#14110f"/>
<rect x="104.95" y="482.84" width="5.6" height="28.76" fill="#14110f"/>
<rect x="111.18" y="490.11" width="5.6" height="21.49" fill="#14110f"/>
<rect x="117.41" y="499.16" width="5.6" height="12.44" fill="#14110f"/>
<rect x="123.63" y="487.68" width="5.6" height="23.92" fill="#14110f"/>
<rect x="129.86" y="495.92" width="5.6" height="15.68" fill="#14110f"/>
<rect x="136.09" y="500.45" width="5.6" height="11.15" fill="#14110f"/>
<rect x="142.32" y="487.2" width="5.6" height="24.4" fill="#14110f"/>
<rect x="148.55" y="493.34" width="5.6" height="18.26" fill="#14110f"/>
<rect x="154.78" y="493.66" width="5.6" height="17.94" fill="#14110f"/>
<rect x="161.01" y="497.7" width="5.6" height="13.9" fill="#14110f"/>
<rect x="167.23" y="500.29" width="5.6" height="11.31" fill="#14110f"/>
<rect x="173.46" y="497.86" width="5.6" height="13.74" fill="#14110f"/>
<rect x="179.69" y="483.97" width="5.6" height="27.63" fill="#14110f"/>
<rect x="185.92" y="497.06" width="5.6" height="14.54" fill="#14110f"/>
<rect x="192.15" y="485.42" width="5.6" height="26.18" fill="#14110f"/>
<rect x="198.38" y="486.07" width="5.6" height="25.53" fill="#14110f"/>
<rect x="204.6" y="487.36" width="5.6" height="24.24" fill="#14110f"/>
<rect x="210.83" y="505.94" width="5.6" height="5.66" fill="#14110f"/>
<rect x="217.06" y="488.98" width="5.6" height="22.62" fill="#14110f"/>
<rect x="223.29" y="499" width="5.6" height="12.6" fill="#14110f"/>
<rect x="229.52" y="490.11" width="5.6" height="21.49" fill="#14110f"/>
<rect x="235.75" y="481.22" width="5.6" height="30.38" fill="#14110f"/>
<rect x="241.97" y="484.45" width="5.6" height="27.15" fill="#14110f"/>
<rect x="248.2" y="493.66" width="5.6" height="17.94" fill="#14110f"/>
<rect x="254.43" y="484.45" width="5.6" height="27.15" fill="#14110f"/>
<rect x="260.66" y="492.05" width="5.6" height="19.55" fill="#14110f"/>
<rect x="266.89" y="465.22" width="5.6" height="46.38" fill="#14110f"/>
<rect x="273.12" y="497.86" width="5.6" height="13.74" fill="#14110f"/>
<rect x="279.34" y="488.17" width="5.6" height="23.43" fill="#14110f"/>
<rect x="285.57" y="495.6" width="5.6" height="16" fill="#14110f"/>
<rect x="291.8" y="492.85" width="5.6" height="18.75" fill="#14110f"/>
<rect x="298.03" y="483.16" width="5.6" height="28.44" fill="#14110f"/>
<rect x="304.26" y="489.14" width="5.6" height="22.46" fill="#14110f"/>
<rect x="310.49" y="484.13" width="5.6" height="27.47" fill="#14110f"/>
<rect x="316.72" y="487.52" width="5.6" height="24.08" fill="#14110f"/>
<rect x="322.94" y="504.33" width="5.6" height="7.27" fill="#14110f"/>
<rect x="329.17" y="482.84" width="5.6" height="28.76" fill="#14110f"/>
<rect x="335.4" y="482.84" width="5.6" height="28.76" fill="#14110f"/>
<rect x="341.63" y="479.44" width="5.6" height="32.16" fill="#14110f"/>
<rect x="347.86" y="483.32" width="5.6" height="28.28" fill="#14110f"/>
<rect x="354.09" y="503.68" width="5.6" height="7.92" fill="#14110f"/>
<rect x="360.31" y="486.55" width="5.6" height="25.05" fill="#14110f"/>
<rect x="366.54" y="484.13" width="5.6" height="27.47" fill="#14110f"/>
<rect x="372.77" y="480.25" width="5.6" height="31.35" fill="#14110f"/>
<rect x="379" y="484.94" width="5.6" height="26.66" fill="#14110f"/>
<rect x="385.23" y="482.67" width="5.6" height="28.93" fill="#14110f"/>
<rect x="391.46" y="482.35" width="5.6" height="29.25" fill="#14110f"/>
<rect x="397.68" y="496.73" width="5.6" height="14.87" fill="#14110f"/>
<rect x="403.91" y="476.05" width="5.6" height="35.55" fill="#14110f"/>
<rect x="410.14" y="484.94" width="5.6" height="26.66" fill="#14110f"/>
<rect x="416.37" y="467.32" width="5.6" height="44.28" fill="#14110f"/>
<rect x="422.6" y="485.26" width="5.6" height="26.34" fill="#14110f"/>
<rect x="428.83" y="481.06" width="5.6" height="30.54" fill="#14110f"/>
<rect x="435.06" y="482.19" width="5.6" height="29.41" fill="#14110f"/>
<rect x="441.28" y="478.8" width="5.6" height="32.8" fill="#14110f"/>
<rect x="447.51" y="475.89" width="5.6" height="35.71" fill="#14110f"/>
<rect x="453.74" y="485.26" width="5.6" height="26.34" fill="#14110f"/>
<rect x="459.97" y="467.64" width="5.6" height="43.96" fill="#14110f"/>
<rect x="466.2" y="479.76" width="5.6" height="31.84" fill="#14110f"/>
<rect x="472.43" y="488.81" width="5.6" height="22.79" fill="#14110f"/>
<rect x="478.65" y="485.1" width="5.6" height="26.5" fill="#14110f"/>
<rect x="484.88" y="497.06" width="5.6" height="14.54" fill="#14110f"/>
<rect x="491.11" y="494.31" width="5.6" height="17.29" fill="#14110f"/>
<rect x="497.34" y="492.21" width="5.6" height="19.39" fill="#14110f"/>
<rect x="503.57" y="481.22" width="5.6" height="30.38" fill="#14110f"/>
<rect x="509.8" y="476.69" width="5.6" height="34.91" fill="#14110f"/>
<rect x="516.02" y="487.04" width="5.6" height="24.56" fill="#14110f"/>
<rect x="522.25" y="473.46" width="5.6" height="38.14" fill="#14110f"/>
<rect x="528.48" y="491.24" width="5.6" height="20.36" fill="#14110f"/>
<rect x="534.71" y="479.44" width="5.6" height="32.16" fill="#14110f"/>
<rect x="540.94" y="493.02" width="5.6" height="18.58" fill="#14110f"/>
<rect x="547.17" y="454.23" width="5.6" height="57.37" fill="#14110f"/>
<rect x="553.39" y="483.32" width="5.6" height="28.28" fill="#14110f"/>
<rect x="559.62" y="478.8" width="5.6" height="32.8" fill="#14110f"/>
<rect x="565.85" y="479.93" width="5.6" height="31.67" fill="#14110f"/>
<rect x="572.08" y="478.96" width="5.6" height="32.64" fill="#14110f"/>
<rect x="578.31" y="484.45" width="5.6" height="27.15" fill="#14110f"/>
<rect x="584.54" y="495.12" width="5.6" height="16.48" fill="#14110f"/>
<rect x="590.77" y="486.07" width="5.6" height="25.53" fill="#14110f"/>
<rect x="596.99" y="493.99" width="5.6" height="17.61" fill="#14110f"/>
<rect x="603.22" y="491.08" width="5.6" height="20.52" fill="#14110f"/>
<rect x="609.45" y="477.34" width="5.6" height="34.26" fill="#14110f"/>
<rect x="615.68" y="479.93" width="5.6" height="31.67" fill="#14110f"/>
<rect x="621.91" y="486.39" width="5.6" height="25.21" fill="#14110f"/>
<rect x="628.14" y="486.88" width="5.6" height="24.72" fill="#14110f"/>
<rect x="634.36" y="489.3" width="5.6" height="22.3" fill="#14110f"/>
<rect x="640.59" y="472.01" width="5.6" height="39.59" fill="#14110f"/>
<rect x="646.82" y="467.64" width="5.6" height="43.96" fill="#14110f"/>
<rect x="653.05" y="464.74" width="5.6" height="46.86" fill="#14110f"/>
<rect x="659.28" y="457.95" width="5.6" height="53.65" fill="#14110f"/>
<rect x="665.51" y="479.12" width="5.6" height="32.48" fill="#14110f"/>
<rect x="671.73" y="469.1" width="5.6" height="42.5" fill="#14110f"/>
<rect x="677.96" y="472.82" width="5.6" height="38.78" fill="#14110f"/>
<line x1="35.5" x2="35.5" y1="430.2" y2="516.2" stroke="#bebebe" stroke-width="1"/>
<line x1="684.5" x2="684.5" y1="430.2" y2="516.2" stroke="#cdcdcd" stroke-width="1"/>
<line x1="35" x2="685" y1="430.65" y2="430.65" stroke="#d0d0d0" stroke-width="1.9"/>
<line x1="35" x2="685" y1="515.85" y2="515.85" stroke="#c8c8c8" stroke-width="1.4"/>
<line x1="33.7" x2="35.5" y1="511.6" y2="511.6" stroke="#333" stroke-width="1.3"/>
<text transform="translate(32.6,515.25) rotate(0.03)" font-size="10.7" text-anchor="end" textLength="4.85" lengthAdjust="spacingAndGlyphs" fill="#363636">0</text>
<line x1="33.7" x2="35.5" y1="495.44" y2="495.44" stroke="#333" stroke-width="1.3"/>
<text transform="translate(32.6,499.09) rotate(0.03)" font-size="10.7" text-anchor="end" textLength="9.7" lengthAdjust="spacingAndGlyphs" fill="#363636">10</text>
<line x1="33.7" x2="35.5" y1="479.28" y2="479.28" stroke="#333" stroke-width="1.3"/>
<text transform="translate(32.6,482.93) rotate(0.03)" font-size="10.7" text-anchor="end" textLength="9.7" lengthAdjust="spacingAndGlyphs" fill="#363636">20</text>
<line x1="33.7" x2="35.5" y1="463.12" y2="463.12" stroke="#333" stroke-width="1.3"/>
<text transform="translate(32.6,466.77) rotate(0.03)" font-size="10.7" text-anchor="end" textLength="9.7" lengthAdjust="spacingAndGlyphs" fill="#363636">30</text>
<line x1="33.7" x2="35.5" y1="446.96" y2="446.96" stroke="#333" stroke-width="1.3"/>
<text transform="translate(32.6,450.61) rotate(0.03)" font-size="10.7" text-anchor="end" textLength="9.7" lengthAdjust="spacingAndGlyphs" fill="#363636">40</text>
<line x1="33.7" x2="35.5" y1="430.8" y2="430.8" stroke="#333" stroke-width="1.3"/>
<text transform="translate(32.6,434.45) rotate(0.03)" font-size="10.7" text-anchor="end" textLength="9.7" lengthAdjust="spacingAndGlyphs" fill="#363636">50</text>
<text transform="translate(379.2,426.8) rotate(0.03)" font-size="11.7" text-anchor="middle" textLength="107.3" lengthAdjust="spacingAndGlyphs" fill="#222">Mlp37347 vs Mlp124499</text>
<line x1="39.24" x2="39.24" y1="515.9" y2="517.6" stroke="#333" stroke-width="1.6"/>
<text transform="translate(41.7,519.15) rotate(-89.96)" font-size="7.15" text-anchor="end" textLength="38.6" lengthAdjust="spacingAndGlyphs" fill="#1c1c1c" stroke="#1c1c1c" stroke-width="0.1">AT5G46630</text>
<line x1="45.47" x2="45.47" y1="515.9" y2="517.6" stroke="#333" stroke-width="1.6"/>
<text transform="translate(47.93,519.15) rotate(-89.96)" font-size="7.15" text-anchor="end" textLength="38.6" lengthAdjust="spacingAndGlyphs" fill="#1c1c1c" stroke="#1c1c1c" stroke-width="0.1">AT1G09020</text>
<line x1="51.69" x2="51.69" y1="515.9" y2="517.6" stroke="#333" stroke-width="1.6"/>
<text transform="translate(54.15,519.15) rotate(-89.96)" font-size="7.15" text-anchor="end" textLength="38.6" lengthAdjust="spacingAndGlyphs" fill="#1c1c1c" stroke="#1c1c1c" stroke-width="0.1">AT5G53180</text>
<line x1="57.92" x2="57.92" y1="515.9" y2="517.6" stroke="#333" stroke-width="1.6"/>
<text transform="translate(60.38,519.15) rotate(-89.96)" font-size="7.15" text-anchor="end" textLength="38.6" lengthAdjust="spacingAndGlyphs" fill="#1c1c1c" stroke="#1c1c1c" stroke-width="0.1">AT2G32170</text>
<line x1="64.15" x2="64.15" y1="515.9" y2="517.6" stroke="#333" stroke-width="1.6"/>
<text transform="translate(66.61,519.15) rotate(-89.96)" font-size="7.15" text-anchor="end" textLength="38.6" lengthAdjust="spacingAndGlyphs" fill="#1c1c1c" stroke="#1c1c1c" stroke-width="0.1">AT5G43320</text>
<line x1="70.38" x2="70.38" y1="515.9" y2="517.6" stroke="#333" stroke-width="1.6"/>
<text transform="translate(72.84,519.15) rotate(-89.96)" font-size="7.15" text-anchor="end" textLength="38.6" lengthAdjust="spacingAndGlyphs" fill="#1c1c1c" stroke="#1c1c1c" stroke-width="0.1">AT1G43190</text>
<line x1="76.61" x2="76.61" y1="515.9" y2="517.6" stroke="#333" stroke-width="1.6"/>
<text transform="translate(79.07,519.15) rotate(-89.96)" font-size="7.15" text-anchor="end" textLength="38.6" lengthAdjust="spacingAndGlyphs" fill="#1c1c1c" stroke="#1c1c1c" stroke-width="0.1">AT5G44150</text>
<line x1="82.84" x2="82.84" y1="515.9" y2="517.6" stroke="#333" stroke-width="1.6"/>
<text transform="translate(85.3,519.15) rotate(-89.96)" font-size="7.15" text-anchor="end" textLength="38.6" lengthAdjust="spacingAndGlyphs" fill="#1c1c1c" stroke="#1c1c1c" stroke-width="0.1">AT4G26100</text>
<line x1="89.06" x2="89.06" y1="515.9" y2="517.6" stroke="#333" stroke-width="1.6"/>
<text transform="translate(91.52,519.15) rotate(-89.96)" font-size="7.15" text-anchor="end" textLength="38.6" lengthAdjust="spacingAndGlyphs" fill="#1c1c1c" stroke="#1c1c1c" stroke-width="0.1">AT5G51280</text>
<line x1="95.29" x2="95.29" y1="515.9" y2="517.6" stroke="#333" stroke-width="1.6"/>
<text transform="translate(97.75,519.15) rotate(-89.96)" font-size="7.15" text-anchor="end" textLength="38.6" lengthAdjust="spacingAndGlyphs" fill="#1c1c1c" stroke="#1c1c1c" stroke-width="0.1">AT5G19485</text>
<line x1="101.52" x2="101.52" y1="515.9" y2="517.6" stroke="#333" stroke-width="1.6"/>
<text transform="translate(103.98,519.15) rotate(-89.96)" font-size="7.15" text-anchor="end" textLength="38.6" lengthAdjust="spacingAndGlyphs" fill="#1c1c1c" stroke="#1c1c1c" stroke-width="0.1">AT3G28670</text>
<line x1="107.75" x2="107.75" y1="515.9" y2="517.6" stroke="#333" stroke-width="1.6"/>
<text transform="translate(110.21,519.15) rotate(-89.96)" font-size="7.15" text-anchor="end" textLength="38.6" lengthAdjust="spacingAndGlyphs" fill="#1c1c1c" stroke="#1c1c1c" stroke-width="0.1">AT1G17760</text>
<line x1="113.98" x2="113.98" y1="515.9" y2="517.6" stroke="#333" stroke-width="1.6"/>
<text transform="translate(116.44,519.15) rotate(-89.96)" font-size="7.15" text-anchor="end" textLength="38.6" lengthAdjust="spacingAndGlyphs" fill="#1c1c1c" stroke="#1c1c1c" stroke-width="0.1">AT5G57950</text>
<line x1="120.21" x2="120.21" y1="515.9" y2="517.6" stroke="#333" stroke-width="1.6"/>
<text transform="translate(122.67,519.15) rotate(-89.96)" font-size="7.15" text-anchor="end" textLength="38.6" lengthAdjust="spacingAndGlyphs" fill="#1c1c1c" stroke="#1c1c1c" stroke-width="0.1">AT5G21010</text>
<line x1="126.43" x2="126.43" y1="515.9" y2="517.6" stroke="#333" stroke-width="1.6"/>
<text transform="translate(128.89,519.15) rotate(-89.96)" font-size="7.15" text-anchor="end" textLength="38.6" lengthAdjust="spacingAndGlyphs" fill="#1c1c1c" stroke="#1c1c1c" stroke-width="0.1">AT3G63150</text>
<line x1="132.66" x2="132.66" y1="515.9" y2="517.6" stroke="#333" stroke-width="1.6"/>
<text transform="translate(135.12,519.15) rotate(-89.96)" font-size="7.15" text-anchor="end" textLength="38.6" lengthAdjust="spacingAndGlyphs" fill="#1c1c1c" stroke="#1c1c1c" stroke-width="0.1">AT3G53390</text>
<line x1="138.89" x2="138.89" y1="515.9" y2="517.6" stroke="#333" stroke-width="1.6"/>
<text transform="translate(141.35,519.15) rotate(-89.96)" font-size="7.15" text-anchor="end" textLength="38.6" lengthAdjust="spacingAndGlyphs" fill="#1c1c1c" stroke="#1c1c1c" stroke-width="0.1">AT4G32010</text>
<line x1="145.12" x2="145.12" y1="515.9" y2="517.6" stroke="#333" stroke-width="1.6"/>
<text transform="translate(147.58,519.15) rotate(-89.96)" font-size="7.15" text-anchor="end" textLength="38.6" lengthAdjust="spacingAndGlyphs" fill="#1c1c1c" stroke="#1c1c1c" stroke-width="0.1">AT4G15415</text>
<line x1="151.35" x2="151.35" y1="515.9" y2="517.6" stroke="#333" stroke-width="1.6"/>
<text transform="translate(153.81,519.15) rotate(-89.96)" font-size="7.15" text-anchor="end" textLength="38.6" lengthAdjust="spacingAndGlyphs" fill="#1c1c1c" stroke="#1c1c1c" stroke-width="0.1">AT1G69340</text>
<line x1="157.58" x2="157.58" y1="515.9" y2="517.6" stroke="#333" stroke-width="1.6"/>
<text transform="translate(160.04,519.15) rotate(-89.96)" font-size="7.15" text-anchor="end" textLength="38.6" lengthAdjust="spacingAndGlyphs" fill="#1c1c1c" stroke="#1c1c1c" stroke-width="0.1">AT2G39760</text>
<line x1="163.81" x2="163.81" y1="515.9" y2="517.6" stroke="#333" stroke-width="1.6"/>
<text transform="translate(166.26,519.15) rotate(-89.96)" font-size="7.15" text-anchor="end" textLength="38.6" lengthAdjust="spacingAndGlyphs" fill="#1c1c1c" stroke="#1c1c1c" stroke-width="0.1">AT3G10330</text>
<line x1="170.03" x2="170.03" y1="515.9" y2="517.6" stroke="#333" stroke-width="1.6"/>
<text transform="translate(172.49,519.15) rotate(-89.96)" font-size="7.15" text-anchor="end" textLength="38.6" lengthAdjust="spacingAndGlyphs" fill="#1c1c1c" stroke="#1c1c1c" stroke-width="0.1">AT1G22200</text>
<line x1="176.26" x2="176.26" y1="515.9" y2="517.6" stroke="#333" stroke-width="1.6"/>
<text transform="translate(178.72,519.15) rotate(-89.96)" font-size="7.15" text-anchor="end" textLength="38.6" lengthAdjust="spacingAndGlyphs" fill="#1c1c1c" stroke="#1c1c1c" stroke-width="0.1">AT3G27320</text>
<line x1="182.49" x2="182.49" y1="515.9" y2="517.6" stroke="#333" stroke-width="1.6"/>
<text transform="translate(184.95,519.15) rotate(-89.96)" font-size="7.15" text-anchor="end" textLength="38.6" lengthAdjust="spacingAndGlyphs" fill="#1c1c1c" stroke="#1c1c1c" stroke-width="0.1">AT2G20790</text>
<line x1="188.72" x2="188.72" y1="515.9" y2="517.6" stroke="#333" stroke-width="1.6"/>
<text transform="translate(191.18,519.15) rotate(-89.96)" font-size="7.15" text-anchor="end" textLength="38.6" lengthAdjust="spacingAndGlyphs" fill="#1c1c1c" stroke="#1c1c1c" stroke-width="0.1">AT1G54080</text>
<line x1="194.95" x2="194.95" y1="515.9" y2="517.6" stroke="#333" stroke-width="1.6"/>
<text transform="translate(197.41,519.15) rotate(-89.96)" font-size="7.15" text-anchor="end" textLength="38.6" lengthAdjust="spacingAndGlyphs" fill="#1c1c1c" stroke="#1c1c1c" stroke-width="0.1">AT1G50500</text>
<line x1="201.18" x2="201.18" y1="515.9" y2="517.6" stroke="#333" stroke-width="1.6"/>
<text transform="translate(203.64,519.15) rotate(-89.96)" font-size="7.15" text-anchor="end" textLength="38.6" lengthAdjust="spacingAndGlyphs" fill="#1c1c1c" stroke="#1c1c1c" stroke-width="0.1">AT1G56590</text>
<line x1="207.4" x2="207.4" y1="515.9" y2="517.6" stroke="#333" stroke-width="1.6"/>
<text transform="translate(209.86,519.15) rotate(-89.96)" font-size="7.15" text-anchor="end" textLength="38.6" lengthAdjust="spacingAndGlyphs" fill="#1c1c1c" stroke="#1c1c1c" stroke-width="0.1">AT4G13730</text>
<line x1="213.63" x2="213.63" y1="515.9" y2="517.6" stroke="#333" stroke-width="1.6"/>
<text transform="translate(216.09,519.15) rotate(-89.96)" font-size="7.15" text-anchor="end" textLength="38.6" lengthAdjust="spacingAndGlyphs" fill="#1c1c1c" stroke="#1c1c1c" stroke-width="0.1">AT2G26590</text>
<line x1="219.86" x2="219.86" y1="515.9" y2="517.6" stroke="#333" stroke-width="1.6"/>
<text transform="translate(222.32,519.15) rotate(-89.96)" font-size="7.15" text-anchor="end" textLength="38.6" lengthAdjust="spacingAndGlyphs" fill="#1c1c1c" stroke="#1c1c1c" stroke-width="0.1">AT4G32120</text>
<line x1="226.09" x2="226.09" y1="515.9" y2="517.6" stroke="#333" stroke-width="1.6"/>
<text transform="translate(228.55,519.15) rotate(-89.96)" font-size="7.15" text-anchor="end" textLength="38.6" lengthAdjust="spacingAndGlyphs" fill="#1c1c1c" stroke="#1c1c1c" stroke-width="0.1">AT5G19350</text>
<line x1="232.32" x2="232.32" y1="515.9" y2="517.6" stroke="#333" stroke-width="1.6"/>
<text transform="translate(234.78,519.15) rotate(-89.96)" font-size="7.15" text-anchor="end" textLength="38.6" lengthAdjust="spacingAndGlyphs" fill="#1c1c1c" stroke="#1c1c1c" stroke-width="0.1">AT1G63430</text>
<line x1="238.55" x2="238.55" y1="515.9" y2="517.6" stroke="#333" stroke-width="1.6"/>
<text transform="translate(241.01,519.15) rotate(-89.96)" font-size="7.15" text-anchor="end" textLength="38.6" lengthAdjust="spacingAndGlyphs" fill="#1c1c1c" stroke="#1c1c1c" stroke-width="0.1">AT1G19480</text>
<line x1="244.77" x2="244.77" y1="515.9" y2="517.6" stroke="#333" stroke-width="1.6"/>
<text transform="translate(247.23,519.15) rotate(-89.96)" font-size="7.15" text-anchor="end" textLength="38.6" lengthAdjust="spacingAndGlyphs" fill="#1c1c1c" stroke="#1c1c1c" stroke-width="0.1">AT3G03940</text>
<line x1="251" x2="251" y1="515.9" y2="517.6" stroke="#333" stroke-width="1.6"/>
<text transform="translate(253.46,519.15) rotate(-89.96)" font-size="7.15" text-anchor="end" textLength="38.6" lengthAdjust="spacingAndGlyphs" fill="#1c1c1c" stroke="#1c1c1c" stroke-width="0.1">AT5G48520</text>
<line x1="257.23" x2="257.23" y1="515.9" y2="517.6" stroke="#333" stroke-width="1.6"/>
<text transform="translate(259.69,519.15) rotate(-89.96)" font-size="7.15" text-anchor="end" textLength="38.6" lengthAdjust="spacingAndGlyphs" fill="#1c1c1c" stroke="#1c1c1c" stroke-width="0.1">AT5G51340</text>
<line x1="263.46" x2="263.46" y1="515.9" y2="517.6" stroke="#333" stroke-width="1.6"/>
<text transform="translate(265.92,519.15) rotate(-89.96)" font-size="7.15" text-anchor="end" textLength="38.6" lengthAdjust="spacingAndGlyphs" fill="#1c1c1c" stroke="#1c1c1c" stroke-width="0.1">AT1G13320</text>
<line x1="269.69" x2="269.69" y1="515.9" y2="517.6" stroke="#333" stroke-width="1.6"/>
<text transform="translate(272.15,519.15) rotate(-89.96)" font-size="7.15" text-anchor="end" textLength="38.6" lengthAdjust="spacingAndGlyphs" fill="#1c1c1c" stroke="#1c1c1c" stroke-width="0.1">AT4G39240</text>
<line x1="275.92" x2="275.92" y1="515.9" y2="517.6" stroke="#333" stroke-width="1.6"/>
<text transform="translate(278.38,519.15) rotate(-89.96)" font-size="7.15" text-anchor="end" textLength="38.6" lengthAdjust="spacingAndGlyphs" fill="#1c1c1c" stroke="#1c1c1c" stroke-width="0.1">AT5G26760</text>
<line x1="282.14" x2="282.14" y1="515.9" y2="517.6" stroke="#333" stroke-width="1.6"/>
<text transform="translate(284.6,519.15) rotate(-89.96)" font-size="7.15" text-anchor="end" textLength="38.6" lengthAdjust="spacingAndGlyphs" fill="#1c1c1c" stroke="#1c1c1c" stroke-width="0.1">AT4G24470</text>
<line x1="288.37" x2="288.37" y1="515.9" y2="517.6" stroke="#333" stroke-width="1.6"/>
<text transform="translate(290.83,519.15) rotate(-89.96)" font-size="7.15" text-anchor="end" textLength="38.6" lengthAdjust="spacingAndGlyphs" fill="#1c1c1c" stroke="#1c1c1c" stroke-width="0.1">AT5G59710</text>
<line x1="294.6" x2="294.6" y1="515.9" y2="517.6" stroke="#333" stroke-width="1.6"/>
<text transform="translate(297.06,519.15) rotate(-89.96)" font-size="7.15" text-anchor="end" textLength="38.6" lengthAdjust="spacingAndGlyphs" fill="#1c1c1c" stroke="#1c1c1c" stroke-width="0.1">AT2G40090</text>
<line x1="300.83" x2="300.83" y1="515.9" y2="517.6" stroke="#333" stroke-width="1.6"/>
<text transform="translate(303.29,519.15) rotate(-89.96)" font-size="7.15" text-anchor="end" textLength="38.6" lengthAdjust="spacingAndGlyphs" fill="#1c1c1c" stroke="#1c1c1c" stroke-width="0.1">AT5G58270</text>
<line x1="307.06" x2="307.06" y1="515.9" y2="517.6" stroke="#333" stroke-width="1.6"/>
<text transform="translate(309.52,519.15) rotate(-89.96)" font-size="7.15" text-anchor="end" textLength="38.6" lengthAdjust="spacingAndGlyphs" fill="#1c1c1c" stroke="#1c1c1c" stroke-width="0.1">AT3G18380</text>
<line x1="313.29" x2="313.29" y1="515.9" y2="517.6" stroke="#333" stroke-width="1.6"/>
<text transform="translate(315.75,519.15) rotate(-89.96)" font-size="7.15" text-anchor="end" textLength="38.6" lengthAdjust="spacingAndGlyphs" fill="#1c1c1c" stroke="#1c1c1c" stroke-width="0.1">AT1G35470</text>
<line x1="319.52" x2="319.52" y1="515.9" y2="517.6" stroke="#333" stroke-width="1.6"/>
<text transform="translate(321.97,519.15) rotate(-89.96)" font-size="7.15" text-anchor="end" textLength="38.6" lengthAdjust="spacingAndGlyphs" fill="#1c1c1c" stroke="#1c1c1c" stroke-width="0.1">AT3G10540</text>
<line x1="325.74" x2="325.74" y1="515.9" y2="517.6" stroke="#333" stroke-width="1.6"/>
<text transform="translate(328.2,519.15) rotate(-89.96)" font-size="7.15" text-anchor="end" textLength="38.6" lengthAdjust="spacingAndGlyphs" fill="#1c1c1c" stroke="#1c1c1c" stroke-width="0.1">AT2G23080</text>
<line x1="331.97" x2="331.97" y1="515.9" y2="517.6" stroke="#333" stroke-width="1.6"/>
<text transform="translate(334.43,519.15) rotate(-89.96)" font-size="7.15" text-anchor="end" textLength="38.6" lengthAdjust="spacingAndGlyphs" fill="#1c1c1c" stroke="#1c1c1c" stroke-width="0.1">AT4G01370</text>
<line x1="338.2" x2="338.2" y1="515.9" y2="517.6" stroke="#333" stroke-width="1.6"/>
<text transform="translate(340.66,519.15) rotate(-89.96)" font-size="7.15" text-anchor="end" textLength="38.6" lengthAdjust="spacingAndGlyphs" fill="#1c1c1c" stroke="#1c1c1c" stroke-width="0.1">AT1G15490</text>
<line x1="344.43" x2="344.43" y1="515.9" y2="517.6" stroke="#333" stroke-width="1.6"/>
<text transform="translate(346.89,519.15) rotate(-89.96)" font-size="7.15" text-anchor="end" textLength="38.6" lengthAdjust="spacingAndGlyphs" fill="#1c1c1c" stroke="#1c1c1c" stroke-width="0.1">AT5G18410</text>
<line x1="350.66" x2="350.66" y1="515.9" y2="517.6" stroke="#333" stroke-width="1.6"/>
<text transform="translate(353.12,519.15) rotate(-89.96)" font-size="7.15" text-anchor="end" textLength="38.6" lengthAdjust="spacingAndGlyphs" fill="#1c1c1c" stroke="#1c1c1c" stroke-width="0.1">AT1G51450</text>
<line x1="356.89" x2="356.89" y1="515.9" y2="517.6" stroke="#333" stroke-width="1.6"/>
<text transform="translate(359.35,519.15) rotate(-89.96)" font-size="7.15" text-anchor="end" textLength="38.6" lengthAdjust="spacingAndGlyphs" fill="#1c1c1c" stroke="#1c1c1c" stroke-width="0.1">AT1G78800</text>
<line x1="363.11" x2="363.11" y1="515.9" y2="517.6" stroke="#333" stroke-width="1.6"/>
<text transform="translate(365.57,519.15) rotate(-89.96)" font-size="7.15" text-anchor="end" textLength="38.6" lengthAdjust="spacingAndGlyphs" fill="#1c1c1c" stroke="#1c1c1c" stroke-width="0.1">AT5G58100</text>
<line x1="369.34" x2="369.34" y1="515.9" y2="517.6" stroke="#333" stroke-width="1.6"/>
<text transform="translate(371.8,519.15) rotate(-89.96)" font-size="7.15" text-anchor="end" textLength="38.6" lengthAdjust="spacingAndGlyphs" fill="#1c1c1c" stroke="#1c1c1c" stroke-width="0.1">AT4G15880</text>
<line x1="375.57" x2="375.57" y1="515.9" y2="517.6" stroke="#333" stroke-width="1.6"/>
<text transform="translate(378.03,519.15) rotate(-89.96)" font-size="7.15" text-anchor="end" textLength="38.6" lengthAdjust="spacingAndGlyphs" fill="#1c1c1c" stroke="#1c1c1c" stroke-width="0.1">AT1G52630</text>
<line x1="381.8" x2="381.8" y1="515.9" y2="517.6" stroke="#333" stroke-width="1.6"/>
<text transform="translate(384.26,519.15) rotate(-89.96)" font-size="7.15" text-anchor="end" textLength="38.6" lengthAdjust="spacingAndGlyphs" fill="#1c1c1c" stroke="#1c1c1c" stroke-width="0.1">AT5G19280</text>
<line x1="388.03" x2="388.03" y1="515.9" y2="517.6" stroke="#333" stroke-width="1.6"/>
<text transform="translate(390.49,519.15) rotate(-89.96)" font-size="7.15" text-anchor="end" textLength="38.6" lengthAdjust="spacingAndGlyphs" fill="#1c1c1c" stroke="#1c1c1c" stroke-width="0.1">AT2G05755</text>
<line x1="394.26" x2="394.26" y1="515.9" y2="517.6" stroke="#333" stroke-width="1.6"/>
<text transform="translate(396.72,519.15) rotate(-89.96)" font-size="7.15" text-anchor="end" textLength="38.6" lengthAdjust="spacingAndGlyphs" fill="#1c1c1c" stroke="#1c1c1c" stroke-width="0.1">AT3G17880</text>
<line x1="400.48" x2="400.48" y1="515.9" y2="517.6" stroke="#333" stroke-width="1.6"/>
<text transform="translate(402.94,519.15) rotate(-89.96)" font-size="7.15" text-anchor="end" textLength="38.6" lengthAdjust="spacingAndGlyphs" fill="#1c1c1c" stroke="#1c1c1c" stroke-width="0.1">AT1G17720</text>
<line x1="406.71" x2="406.71" y1="515.9" y2="517.6" stroke="#333" stroke-width="1.6"/>
<text transform="translate(409.17,519.15) rotate(-89.96)" font-size="7.15" text-anchor="end" textLength="38.6" lengthAdjust="spacingAndGlyphs" fill="#1c1c1c" stroke="#1c1c1c" stroke-width="0.1">AT4G00650</text>
<text transform="translate(415.4,519.15) rotate(-89.96)" font-size="7.15" text-anchor="end" textLength="38.6" lengthAdjust="spacingAndGlyphs" fill="#1c1c1c" stroke="#1c1c1c" stroke-width="0.1">AT1G08750</text>
<line x1="419.17" x2="419.17" y1="515.9" y2="517.6" stroke="#333" stroke-width="1.6"/>
<text transform="translate(421.63,519.15) rotate(-89.96)" font-size="7.15" text-anchor="end" textLength="38.6" lengthAdjust="spacingAndGlyphs" fill="#1c1c1c" stroke="#1c1c1c" stroke-width="0.1">AT3G33530</text>
<line x1="425.4" x2="425.4" y1="515.9" y2="517.6" stroke="#333" stroke-width="1.6"/>
<text transform="translate(427.86,519.15) rotate(-89.96)" font-size="7.15" text-anchor="end" textLength="38.6" lengthAdjust="spacingAndGlyphs" fill="#1c1c1c" stroke="#1c1c1c" stroke-width="0.1">AT2G45690</text>
<line x1="431.63" x2="431.63" y1="515.9" y2="517.6" stroke="#333" stroke-width="1.6"/>
<text transform="translate(434.09,519.15) rotate(-89.96)" font-size="7.15" text-anchor="end" textLength="38.6" lengthAdjust="spacingAndGlyphs" fill="#1c1c1c" stroke="#1c1c1c" stroke-width="0.1">AT4G17020</text>
<line x1="437.86" x2="437.86" y1="515.9" y2="517.6" stroke="#333" stroke-width="1.6"/>
<text transform="translate(440.31,519.15) rotate(-89.96)" font-size="7.15" text-anchor="end" textLength="38.6" lengthAdjust="spacingAndGlyphs" fill="#1c1c1c" stroke="#1c1c1c" stroke-width="0.1">AT5G09860</text>
<line x1="444.08" x2="444.08" y1="515.9" y2="517.6" stroke="#333" stroke-width="1.6"/>
<text transform="translate(446.54,519.15) rotate(-89.96)" font-size="7.15" text-anchor="end" textLength="38.6" lengthAdjust="spacingAndGlyphs" fill="#1c1c1c" stroke="#1c1c1c" stroke-width="0.1">AT1G61150</text>
<line x1="450.31" x2="450.31" y1="515.9" y2="517.6" stroke="#333" stroke-width="1.6"/>
<text transform="translate(452.77,519.15) rotate(-89.96)" font-size="7.15" text-anchor="end" textLength="38.6" lengthAdjust="spacingAndGlyphs" fill="#1c1c1c" stroke="#1c1c1c" stroke-width="0.1">AT5G18230</text>
<line x1="456.54" x2="456.54" y1="515.9" y2="517.6" stroke="#333" stroke-width="1.6"/>
<text transform="translate(459,519.15) rotate(-89.96)" font-size="7.15" text-anchor="end" textLength="38.6" lengthAdjust="spacingAndGlyphs" fill="#1c1c1c" stroke="#1c1c1c" stroke-width="0.1">AT1G79810</text>
<line x1="462.77" x2="462.77" y1="515.9" y2="517.6" stroke="#333" stroke-width="1.6"/>
<text transform="translate(465.23,519.15) rotate(-89.96)" font-size="7.15" text-anchor="end" textLength="38.6" lengthAdjust="spacingAndGlyphs" fill="#1c1c1c" stroke="#1c1c1c" stroke-width="0.1">AT3G60410</text>
<line x1="469" x2="469" y1="515.9" y2="517.6" stroke="#333" stroke-width="1.6"/>
<text transform="translate(471.46,519.15) rotate(-89.96)" font-size="7.15" text-anchor="end" textLength="38.6" lengthAdjust="spacingAndGlyphs" fill="#1c1c1c" stroke="#1c1c1c" stroke-width="0.1">AT3G17205</text>
<line x1="475.23" x2="475.23" y1="515.9" y2="517.6" stroke="#333" stroke-width="1.6"/>
<text transform="translate(477.69,519.15) rotate(-89.96)" font-size="7.15" text-anchor="end" textLength="38.6" lengthAdjust="spacingAndGlyphs" fill="#1c1c1c" stroke="#1c1c1c" stroke-width="0.1">AT5G64470</text>
<line x1="481.45" x2="481.45" y1="515.9" y2="517.6" stroke="#333" stroke-width="1.6"/>
<text transform="translate(483.91,519.15) rotate(-89.96)" font-size="7.15" text-anchor="end" textLength="38.6" lengthAdjust="spacingAndGlyphs" fill="#1c1c1c" stroke="#1c1c1c" stroke-width="0.1">AT5G18190</text>
<line x1="487.68" x2="487.68" y1="515.9" y2="517.6" stroke="#333" stroke-width="1.6"/>
<text transform="translate(490.14,519.15) rotate(-89.96)" font-size="7.15" text-anchor="end" textLength="38.6" lengthAdjust="spacingAndGlyphs" fill="#1c1c1c" stroke="#1c1c1c" stroke-width="0.1">AT1G12470</text>
<line x1="493.91" x2="493.91" y1="515.9" y2="517.6" stroke="#333" stroke-width="1.6"/>
<text transform="translate(496.37,519.15) rotate(-89.96)" font-size="7.15" text-anchor="end" textLength="38.6" lengthAdjust="spacingAndGlyphs" fill="#1c1c1c" stroke="#1c1c1c" stroke-width="0.1">AT1G65430</text>
<line x1="500.14" x2="500.14" y1="515.9" y2="517.6" stroke="#333" stroke-width="1.6"/>
<text transform="translate(502.6,519.15) rotate(-89.96)" font-size="7.15" text-anchor="end" textLength="38.6" lengthAdjust="spacingAndGlyphs" fill="#1c1c1c" stroke="#1c1c1c" stroke-width="0.1">AT4G24530</text>
<line x1="506.37" x2="506.37" y1="515.9" y2="517.6" stroke="#333" stroke-width="1.6"/>
<text transform="translate(508.83,519.15) rotate(-89.96)" font-size="7.15" text-anchor="end" textLength="38.6" lengthAdjust="spacingAndGlyphs" fill="#1c1c1c" stroke="#1c1c1c" stroke-width="0.1">AT2G41350</text>
<line x1="512.6" x2="512.6" y1="515.9" y2="517.6" stroke="#333" stroke-width="1.6"/>
<text transform="translate(515.06,519.15) rotate(-89.96)" font-size="7.15" text-anchor="end" textLength="38.6" lengthAdjust="spacingAndGlyphs" fill="#1c1c1c" stroke="#1c1c1c" stroke-width="0.1">AT1G60670</text>
<line x1="518.82" x2="518.82" y1="515.9" y2="517.6" stroke="#333" stroke-width="1.6"/>
<text transform="translate(521.28,519.15) rotate(-89.96)" font-size="7.15" text-anchor="end" textLength="38.6" lengthAdjust="spacingAndGlyphs" fill="#1c1c1c" stroke="#1c1c1c" stroke-width="0.1">AT1G45233</text>
<line x1="525.05" x2="525.05" y1="515.9" y2="517.6" stroke="#333" stroke-width="1.6"/>
<text transform="translate(527.51,519.15) rotate(-89.96)" font-size="7.15" text-anchor="end" textLength="38.6" lengthAdjust="spacingAndGlyphs" fill="#1c1c1c" stroke="#1c1c1c" stroke-width="0.1">AT2G22370</text>
<line x1="531.28" x2="531.28" y1="515.9" y2="517.6" stroke="#333" stroke-width="1.6"/>
<text transform="translate(533.74,519.15) rotate(-89.96)" font-size="7.15" text-anchor="end" textLength="38.6" lengthAdjust="spacingAndGlyphs" fill="#1c1c1c" stroke="#1c1c1c" stroke-width="0.1">AT1G54610</text>
<line x1="537.51" x2="537.51" y1="515.9" y2="517.6" stroke="#333" stroke-width="1.6"/>
<text transform="translate(539.97,519.15) rotate(-89.96)" font-size="7.15" text-anchor="end" textLength="38.6" lengthAdjust="spacingAndGlyphs" fill="#1c1c1c" stroke="#1c1c1c" stroke-width="0.1">AT2G27350</text>
<line x1="543.74" x2="543.74" y1="515.9" y2="517.6" stroke="#333" stroke-width="1.6"/>
<text transform="translate(546.2,519.15) rotate(-89.96)" font-size="7.15" text-anchor="end" textLength="38.6" lengthAdjust="spacingAndGlyphs" fill="#1c1c1c" stroke="#1c1c1c" stroke-width="0.1">AT4G24550</text>
<line x1="549.97" x2="549.97" y1="515.9" y2="517.6" stroke="#333" stroke-width="1.6"/>
<text transform="translate(552.43,519.15) rotate(-89.96)" font-size="7.15" text-anchor="end" textLength="38.6" lengthAdjust="spacingAndGlyphs" fill="#1c1c1c" stroke="#1c1c1c" stroke-width="0.1">AT3G50860</text>
<line x1="556.19" x2="556.19" y1="515.9" y2="517.6" stroke="#333" stroke-width="1.6"/>
<text transform="translate(558.65,519.15) rotate(-89.96)" font-size="7.15" text-anchor="end" textLength="38.6" lengthAdjust="spacingAndGlyphs" fill="#1c1c1c" stroke="#1c1c1c" stroke-width="0.1">AT3G19980</text>
<line x1="562.42" x2="562.42" y1="515.9" y2="517.6" stroke="#333" stroke-width="1.6"/>
<text transform="translate(564.88,519.15) rotate(-89.96)" font-size="7.15" text-anchor="end" textLength="38.6" lengthAdjust="spacingAndGlyphs" fill="#1c1c1c" stroke="#1c1c1c" stroke-width="0.1">AT5G46210</text>
<line x1="568.65" x2="568.65" y1="515.9" y2="517.6" stroke="#333" stroke-width="1.6"/>
<text transform="translate(571.11,519.15) rotate(-89.96)" font-size="7.15" text-anchor="end" textLength="38.6" lengthAdjust="spacingAndGlyphs" fill="#1c1c1c" stroke="#1c1c1c" stroke-width="0.1">AT1G72340</text>
<line x1="574.88" x2="574.88" y1="515.9" y2="517.6" stroke="#333" stroke-width="1.6"/>
<text transform="translate(577.34,519.15) rotate(-89.96)" font-size="7.15" text-anchor="end" textLength="38.6" lengthAdjust="spacingAndGlyphs" fill="#1c1c1c" stroke="#1c1c1c" stroke-width="0.1">AT5G41150</text>
<line x1="581.11" x2="581.11" y1="515.9" y2="517.6" stroke="#333" stroke-width="1.6"/>
<text transform="translate(583.57,519.15) rotate(-89.96)" font-size="7.15" text-anchor="end" textLength="38.6" lengthAdjust="spacingAndGlyphs" fill="#1c1c1c" stroke="#1c1c1c" stroke-width="0.1">AT1G77140</text>
<line x1="587.34" x2="587.34" y1="515.9" y2="517.6" stroke="#333" stroke-width="1.6"/>
<text transform="translate(589.8,519.15) rotate(-89.96)" font-size="7.15" text-anchor="end" textLength="38.6" lengthAdjust="spacingAndGlyphs" fill="#1c1c1c" stroke="#1c1c1c" stroke-width="0.1">AT5G65260</text>
<line x1="593.57" x2="593.57" y1="515.9" y2="517.6" stroke="#333" stroke-width="1.6"/>
<text transform="translate(596.02,519.15) rotate(-89.96)" font-size="7.15" text-anchor="end" textLength="38.6" lengthAdjust="spacingAndGlyphs" fill="#1c1c1c" stroke="#1c1c1c" stroke-width="0.1">AT3G03740</text>
<line x1="599.79" x2="599.79" y1="515.9" y2="517.6" stroke="#333" stroke-width="1.6"/>
<text transform="translate(602.25,519.15) rotate(-89.96)" font-size="7.15" text-anchor="end" textLength="38.6" lengthAdjust="spacingAndGlyphs" fill="#1c1c1c" stroke="#1c1c1c" stroke-width="0.1">AT1G73730</text>
<line x1="606.02" x2="606.02" y1="515.9" y2="517.6" stroke="#333" stroke-width="1.6"/>
<text transform="translate(608.48,519.15) rotate(-89.96)" font-size="7.15" text-anchor="end" textLength="38.6" lengthAdjust="spacingAndGlyphs" fill="#1c1c1c" stroke="#1c1c1c" stroke-width="0.1">AT1G71350</text>
<line x1="612.25" x2="612.25" y1="515.9" y2="517.6" stroke="#333" stroke-width="1.6"/>
<text transform="translate(614.71,519.15) rotate(-89.96)" font-size="7.15" text-anchor="end" textLength="38.6" lengthAdjust="spacingAndGlyphs" fill="#1c1c1c" stroke="#1c1c1c" stroke-width="0.1">AT3G10730</text>
<line x1="618.48" x2="618.48" y1="515.9" y2="517.6" stroke="#333" stroke-width="1.6"/>
<text transform="translate(620.94,519.15) rotate(-89.96)" font-size="7.15" text-anchor="end" textLength="38.6" lengthAdjust="spacingAndGlyphs" fill="#1c1c1c" stroke="#1c1c1c" stroke-width="0.1">AT1G66750</text>
<line x1="624.71" x2="624.71" y1="515.9" y2="517.6" stroke="#333" stroke-width="1.6"/>
<text transform="translate(627.17,519.15) rotate(-89.96)" font-size="7.15" text-anchor="end" textLength="38.6" lengthAdjust="spacingAndGlyphs" fill="#1c1c1c" stroke="#1c1c1c" stroke-width="0.1">AT5G67580</text>
<line x1="630.94" x2="630.94" y1="515.9" y2="517.6" stroke="#333" stroke-width="1.6"/>
<text transform="translate(633.4,519.15) rotate(-89.96)" font-size="7.15" text-anchor="end" textLength="38.6" lengthAdjust="spacingAndGlyphs" fill="#1c1c1c" stroke="#1c1c1c" stroke-width="0.1">AT3G20650</text>
<line x1="637.16" x2="637.16" y1="515.9" y2="517.6" stroke="#333" stroke-width="1.6"/>
<text transform="translate(639.62,519.15) rotate(-89.96)" font-size="7.15" text-anchor="end" textLength="38.6" lengthAdjust="spacingAndGlyphs" fill="#1c1c1c" stroke="#1c1c1c" stroke-width="0.1">AT2G30880</text>
<line x1="643.39" x2="643.39" y1="515.9" y2="517.6" stroke="#333" stroke-width="1.6"/>
<text transform="translate(645.85,519.15) rotate(-89.96)" font-size="7.15" text-anchor="end" textLength="38.6" lengthAdjust="spacingAndGlyphs" fill="#1c1c1c" stroke="#1c1c1c" stroke-width="0.1">AT1G11630</text>
<line x1="649.62" x2="649.62" y1="515.9" y2="517.6" stroke="#333" stroke-width="1.6"/>
<text transform="translate(652.08,519.15) rotate(-89.96)" font-size="7.15" text-anchor="end" textLength="38.6" lengthAdjust="spacingAndGlyphs" fill="#1c1c1c" stroke="#1c1c1c" stroke-width="0.1">AT1G55170</text>
<line x1="655.85" x2="655.85" y1="515.9" y2="517.6" stroke="#333" stroke-width="1.6"/>
<text transform="translate(658.31,519.15) rotate(-89.96)" font-size="7.15" text-anchor="end" textLength="38.6" lengthAdjust="spacingAndGlyphs" fill="#1c1c1c" stroke="#1c1c1c" stroke-width="0.1">AT5G20930</text>
<line x1="662.08" x2="662.08" y1="515.9" y2="517.6" stroke="#333" stroke-width="1.6"/>
<text transform="translate(664.54,519.15) rotate(-89.96)" font-size="7.15" text-anchor="end" textLength="38.6" lengthAdjust="spacingAndGlyphs" fill="#1c1c1c" stroke="#1c1c1c" stroke-width="0.1">AT1G19430</text>
<line x1="668.31" x2="668.31" y1="515.9" y2="517.6" stroke="#333" stroke-width="1.6"/>
<text transform="translate(670.77,519.15) rotate(-89.96)" font-size="7.15" text-anchor="end" textLength="38.6" lengthAdjust="spacingAndGlyphs" fill="#1c1c1c" stroke="#1c1c1c" stroke-width="0.1">AT5G49580</text>
<line x1="674.53" x2="674.53" y1="515.9" y2="517.6" stroke="#333" stroke-width="1.6"/>
<text transform="translate(676.99,519.15) rotate(-89.96)" font-size="7.15" text-anchor="end" textLength="38.6" lengthAdjust="spacingAndGlyphs" fill="#1c1c1c" stroke="#1c1c1c" stroke-width="0.1">AT1G07980</text>
<line x1="680.76" x2="680.76" y1="515.9" y2="517.6" stroke="#333" stroke-width="1.6"/>
<text transform="translate(683.22,519.15) rotate(-89.96)" font-size="7.15" text-anchor="end" textLength="38.6" lengthAdjust="spacingAndGlyphs" fill="#1c1c1c" stroke="#1c1c1c" stroke-width="0.1">AT3G18790</text>
<text transform="translate(2.1,229.45) rotate(0.03)" font-size="18.6" textLength="10.5" lengthAdjust="spacingAndGlyphs" fill="#222">B</text>
<text transform="translate(7.7,362) rotate(-89.96)" font-size="8.8" text-anchor="middle" textLength="41" lengthAdjust="spacingAndGlyphs" fill="#222">Coefficient</text>
<text transform="translate(18.8,362) rotate(-89.96)" font-size="8.8" text-anchor="middle" textLength="52.5" lengthAdjust="spacingAndGlyphs" fill="#222">of variation %</text>
<text transform="translate(0,569.8) rotate(0.03)" font-size="11.3" fill="#222"><tspan x="285.4" textLength="132.8" lengthAdjust="spacingAndGlyphs">References proposed by Zhuo</tspan><tspan x="419.9" font-style="italic" textLength="18.6" lengthAdjust="spacingAndGlyphs">et al</tspan><tspan x="438.8" textLength="28.6" lengthAdjust="spacingAndGlyphs">., 2016</tspan></text>
</svg>
</body></html>
